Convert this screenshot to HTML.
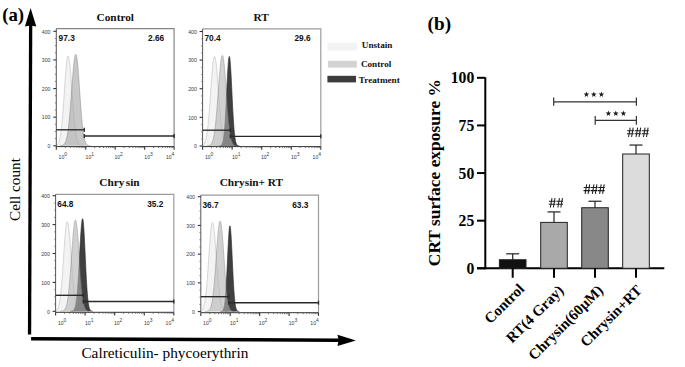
<!DOCTYPE html>
<html><head><meta charset="utf-8"><style>
html,body{margin:0;padding:0;background:#fff;}
svg{display:block;}
</style></head><body>
<svg width="685" height="367" viewBox="0 0 685 367">
<rect width="685" height="367" fill="#fff"/>
<g opacity="1.0"><path d="M56.35,145.80 L56.35,145.32 L56.60,145.20 L56.85,145.06 L57.10,144.88 L57.35,144.67 L57.60,144.41 L57.85,144.11 L58.10,143.75 L58.35,143.33 L58.60,142.83 L58.85,142.24 L59.10,141.57 L59.35,140.79 L59.60,139.89 L59.85,138.87 L60.10,137.71 L60.35,136.40 L60.60,134.93 L60.85,133.29 L61.10,131.48 L61.35,129.48 L61.60,127.29 L61.85,124.91 L62.10,122.33 L62.35,119.56 L62.60,116.61 L62.85,113.49 L63.10,110.20 L63.35,106.76 L63.60,103.20 L63.85,99.54 L64.10,95.81 L64.35,92.03 L64.60,88.25 L64.85,84.49 L65.10,80.81 L65.35,77.24 L65.60,73.81 L65.85,70.58 L66.10,67.59 L66.35,64.86 L66.60,62.45 L66.85,60.37 L67.10,58.67 L67.35,57.35 L67.60,56.45 L67.85,55.98 L68.10,55.93 L68.35,56.24 L68.60,56.91 L68.85,57.91 L69.10,59.24 L69.35,60.88 L69.60,62.81 L69.85,65.02 L70.10,67.47 L70.35,70.15 L70.60,73.02 L70.85,76.05 L71.10,79.22 L71.35,82.49 L71.60,85.84 L71.85,89.23 L72.10,92.64 L72.35,96.03 L72.60,99.39 L72.85,102.70 L73.10,105.92 L73.35,109.05 L73.60,112.06 L73.85,114.95 L74.10,117.70 L74.35,120.30 L74.60,122.76 L74.85,125.05 L75.10,127.20 L75.35,129.18 L75.60,131.01 L75.85,132.69 L76.10,134.23 L76.35,135.63 L76.60,136.89 L76.85,138.02 L77.10,139.04 L77.35,139.95 L77.60,140.75 L77.85,141.46 L78.10,142.09 L78.35,142.64 L78.60,143.12 L78.85,143.53 L79.10,143.89 L79.35,144.20 L79.60,144.46 L79.85,144.68 L80.10,144.87 L80.35,145.03 L80.60,145.17 L80.85,145.28 L81.10,145.38 L81.35,145.46 L81.60,145.52 L81.85,145.58 L82.10,145.62 L82.35,145.66 L82.60,145.68 L82.85,145.71 L83.10,145.73 L83.35,145.74 L83.60,145.76 L83.85,145.76 L83.85,145.80 Z" fill="#f3f3f3"/><path d="M56.35,145.32 L56.35,145.32 L56.60,145.20 L56.85,145.06 L57.10,144.88 L57.35,144.67 L57.60,144.41 L57.85,144.11 L58.10,143.75 L58.35,143.33 L58.60,142.83 L58.85,142.24 L59.10,141.57 L59.35,140.79 L59.60,139.89 L59.85,138.87 L60.10,137.71 L60.35,136.40 L60.60,134.93 L60.85,133.29 L61.10,131.48 L61.35,129.48 L61.60,127.29 L61.85,124.91 L62.10,122.33 L62.35,119.56 L62.60,116.61 L62.85,113.49 L63.10,110.20 L63.35,106.76 L63.60,103.20 L63.85,99.54 L64.10,95.81 L64.35,92.03 L64.60,88.25 L64.85,84.49 L65.10,80.81 L65.35,77.24 L65.60,73.81 L65.85,70.58 L66.10,67.59 L66.35,64.86 L66.60,62.45 L66.85,60.37 L67.10,58.67 L67.35,57.35 L67.60,56.45 L67.85,55.98 L68.10,55.93 L68.35,56.24 L68.60,56.91 L68.85,57.91 L69.10,59.24 L69.35,60.88 L69.60,62.81 L69.85,65.02 L70.10,67.47 L70.35,70.15 L70.60,73.02 L70.85,76.05 L71.10,79.22 L71.35,82.49 L71.60,85.84 L71.85,89.23 L72.10,92.64 L72.35,96.03 L72.60,99.39 L72.85,102.70 L73.10,105.92 L73.35,109.05 L73.60,112.06 L73.85,114.95 L74.10,117.70 L74.35,120.30 L74.60,122.76 L74.85,125.05 L75.10,127.20 L75.35,129.18 L75.60,131.01 L75.85,132.69 L76.10,134.23 L76.35,135.63 L76.60,136.89 L76.85,138.02 L77.10,139.04 L77.35,139.95 L77.60,140.75 L77.85,141.46 L78.10,142.09 L78.35,142.64 L78.60,143.12 L78.85,143.53 L79.10,143.89 L79.35,144.20 L79.60,144.46 L79.85,144.68 L80.10,144.87 L80.35,145.03 L80.60,145.17 L80.85,145.28 L81.10,145.38 L81.35,145.46 L81.60,145.52 L81.85,145.58 L82.10,145.62 L82.35,145.66 L82.60,145.68 L82.85,145.71 L83.10,145.73 L83.35,145.74 L83.60,145.76 L83.85,145.76" fill="none" stroke="#bdbdbd" stroke-width="0.6"/></g>
<g opacity="0.6"><path d="M59.40,145.80 L59.40,145.77 L59.65,145.76 L59.90,145.75 L60.15,145.74 L60.40,145.72 L60.65,145.70 L60.90,145.68 L61.15,145.65 L61.40,145.61 L61.65,145.56 L61.90,145.51 L62.15,145.44 L62.40,145.36 L62.65,145.27 L62.90,145.15 L63.15,145.02 L63.40,144.86 L63.65,144.67 L63.90,144.45 L64.15,144.19 L64.40,143.89 L64.65,143.54 L64.90,143.13 L65.15,142.67 L65.40,142.14 L65.65,141.53 L65.90,140.85 L66.15,140.07 L66.40,139.20 L66.65,138.22 L66.90,137.14 L67.15,135.93 L67.40,134.59 L67.65,133.13 L67.90,131.52 L68.15,129.77 L68.40,127.87 L68.65,125.82 L68.90,123.62 L69.15,121.27 L69.40,118.77 L69.65,116.13 L69.90,113.35 L70.15,110.43 L70.40,107.41 L70.65,104.27 L70.90,101.05 L71.15,97.76 L71.40,94.41 L71.65,91.04 L71.90,87.66 L72.15,84.30 L72.40,80.99 L72.65,77.76 L72.90,74.63 L73.15,71.63 L73.40,68.79 L73.65,66.14 L73.90,63.71 L74.15,61.51 L74.40,59.58 L74.65,57.93 L74.90,56.58 L75.15,55.54 L75.40,54.83 L75.65,54.46 L75.90,54.43 L76.15,54.79 L76.40,55.53 L76.65,56.66 L76.90,58.15 L77.15,59.99 L77.40,62.15 L77.65,64.61 L77.90,67.34 L78.15,70.31 L78.40,73.47 L78.65,76.81 L78.90,80.27 L79.15,83.83 L79.40,87.45 L79.65,91.09 L79.90,94.73 L80.15,98.33 L80.40,101.87 L80.65,105.32 L80.90,108.66 L81.15,111.87 L81.40,114.94 L81.65,117.85 L81.90,120.60 L82.15,123.18 L82.40,125.57 L82.65,127.80 L82.90,129.85 L83.15,131.72 L83.40,133.43 L83.65,134.98 L83.90,136.37 L84.15,137.63 L84.40,138.74 L84.65,139.73 L84.90,140.60 L85.15,141.37 L85.40,142.04 L85.65,142.62 L85.90,143.13 L86.15,143.56 L86.40,143.93 L86.65,144.25 L86.90,144.52 L87.15,144.74 L87.40,144.93 L87.65,145.09 L87.90,145.23 L88.15,145.34 L88.40,145.43 L88.65,145.50 L88.90,145.56 L89.15,145.61 L89.40,145.65 L89.65,145.68 L89.90,145.71 L90.15,145.73 L90.40,145.74 L90.65,145.76 L90.90,145.77 L90.90,145.80 Z" fill="#a4a4a4"/><path d="M59.40,145.77 L59.40,145.77 L59.65,145.76 L59.90,145.75 L60.15,145.74 L60.40,145.72 L60.65,145.70 L60.90,145.68 L61.15,145.65 L61.40,145.61 L61.65,145.56 L61.90,145.51 L62.15,145.44 L62.40,145.36 L62.65,145.27 L62.90,145.15 L63.15,145.02 L63.40,144.86 L63.65,144.67 L63.90,144.45 L64.15,144.19 L64.40,143.89 L64.65,143.54 L64.90,143.13 L65.15,142.67 L65.40,142.14 L65.65,141.53 L65.90,140.85 L66.15,140.07 L66.40,139.20 L66.65,138.22 L66.90,137.14 L67.15,135.93 L67.40,134.59 L67.65,133.13 L67.90,131.52 L68.15,129.77 L68.40,127.87 L68.65,125.82 L68.90,123.62 L69.15,121.27 L69.40,118.77 L69.65,116.13 L69.90,113.35 L70.15,110.43 L70.40,107.41 L70.65,104.27 L70.90,101.05 L71.15,97.76 L71.40,94.41 L71.65,91.04 L71.90,87.66 L72.15,84.30 L72.40,80.99 L72.65,77.76 L72.90,74.63 L73.15,71.63 L73.40,68.79 L73.65,66.14 L73.90,63.71 L74.15,61.51 L74.40,59.58 L74.65,57.93 L74.90,56.58 L75.15,55.54 L75.40,54.83 L75.65,54.46 L75.90,54.43 L76.15,54.79 L76.40,55.53 L76.65,56.66 L76.90,58.15 L77.15,59.99 L77.40,62.15 L77.65,64.61 L77.90,67.34 L78.15,70.31 L78.40,73.47 L78.65,76.81 L78.90,80.27 L79.15,83.83 L79.40,87.45 L79.65,91.09 L79.90,94.73 L80.15,98.33 L80.40,101.87 L80.65,105.32 L80.90,108.66 L81.15,111.87 L81.40,114.94 L81.65,117.85 L81.90,120.60 L82.15,123.18 L82.40,125.57 L82.65,127.80 L82.90,129.85 L83.15,131.72 L83.40,133.43 L83.65,134.98 L83.90,136.37 L84.15,137.63 L84.40,138.74 L84.65,139.73 L84.90,140.60 L85.15,141.37 L85.40,142.04 L85.65,142.62 L85.90,143.13 L86.15,143.56 L86.40,143.93 L86.65,144.25 L86.90,144.52 L87.15,144.74 L87.40,144.93 L87.65,145.09 L87.90,145.23 L88.15,145.34 L88.40,145.43 L88.65,145.50 L88.90,145.56 L89.15,145.61 L89.40,145.65 L89.65,145.68 L89.90,145.71 L90.15,145.73 L90.40,145.74 L90.65,145.76 L90.90,145.77" fill="none" stroke="#4a4a4a" stroke-width="0.6"/></g>
<path d="M56.30,28.60 H174.10 V146.60" fill="none" stroke="#858585" stroke-width="1.2"/>
<line x1="56.30" y1="28.60" x2="56.30" y2="146.60" stroke="#444" stroke-width="0.9"/>
<line x1="56.30" y1="146.60" x2="174.10" y2="146.60" stroke="#333" stroke-width="1"/>
<line x1="53.30" y1="145.80" x2="56.30" y2="145.80" stroke="#333" stroke-width="1.1"/>
<text x="50.50" y="148.10" font-family='"Liberation Sans", sans-serif' font-size="5.2" fill="#3a3a3a" text-anchor="end">0</text>
<line x1="54.90" y1="138.64" x2="56.30" y2="138.64" stroke="#666" stroke-width="0.8"/>
<line x1="54.90" y1="131.49" x2="56.30" y2="131.49" stroke="#666" stroke-width="0.8"/>
<line x1="54.90" y1="124.33" x2="56.30" y2="124.33" stroke="#666" stroke-width="0.8"/>
<line x1="53.30" y1="117.18" x2="56.30" y2="117.18" stroke="#333" stroke-width="1.1"/>
<text x="50.50" y="119.48" font-family='"Liberation Sans", sans-serif' font-size="5.2" fill="#3a3a3a" text-anchor="end">100</text>
<line x1="54.90" y1="110.02" x2="56.30" y2="110.02" stroke="#666" stroke-width="0.8"/>
<line x1="54.90" y1="102.86" x2="56.30" y2="102.86" stroke="#666" stroke-width="0.8"/>
<line x1="54.90" y1="95.71" x2="56.30" y2="95.71" stroke="#666" stroke-width="0.8"/>
<line x1="53.30" y1="88.55" x2="56.30" y2="88.55" stroke="#333" stroke-width="1.1"/>
<text x="50.50" y="90.85" font-family='"Liberation Sans", sans-serif' font-size="5.2" fill="#3a3a3a" text-anchor="end">200</text>
<line x1="54.90" y1="81.39" x2="56.30" y2="81.39" stroke="#666" stroke-width="0.8"/>
<line x1="54.90" y1="74.24" x2="56.30" y2="74.24" stroke="#666" stroke-width="0.8"/>
<line x1="54.90" y1="67.08" x2="56.30" y2="67.08" stroke="#666" stroke-width="0.8"/>
<line x1="53.30" y1="59.92" x2="56.30" y2="59.92" stroke="#333" stroke-width="1.1"/>
<text x="50.50" y="62.22" font-family='"Liberation Sans", sans-serif' font-size="5.2" fill="#3a3a3a" text-anchor="end">300</text>
<line x1="54.90" y1="52.77" x2="56.30" y2="52.77" stroke="#666" stroke-width="0.8"/>
<line x1="54.90" y1="45.61" x2="56.30" y2="45.61" stroke="#666" stroke-width="0.8"/>
<line x1="54.90" y1="38.46" x2="56.30" y2="38.46" stroke="#666" stroke-width="0.8"/>
<line x1="53.30" y1="31.30" x2="56.30" y2="31.30" stroke="#333" stroke-width="1.1"/>
<text x="50.50" y="33.60" font-family='"Liberation Sans", sans-serif' font-size="5.2" fill="#3a3a3a" text-anchor="end">400</text>
<line x1="56.30" y1="146.60" x2="56.30" y2="149.80" stroke="#333" stroke-width="1.1"/>
<line x1="65.17" y1="146.60" x2="65.17" y2="148.10" stroke="#555" stroke-width="0.8"/>
<line x1="70.35" y1="146.60" x2="70.35" y2="148.10" stroke="#555" stroke-width="0.8"/>
<line x1="74.03" y1="146.60" x2="74.03" y2="148.10" stroke="#555" stroke-width="0.8"/>
<line x1="76.88" y1="146.60" x2="76.88" y2="148.10" stroke="#555" stroke-width="0.8"/>
<line x1="79.22" y1="146.60" x2="79.22" y2="148.10" stroke="#555" stroke-width="0.8"/>
<line x1="81.19" y1="146.60" x2="81.19" y2="148.10" stroke="#555" stroke-width="0.8"/>
<line x1="82.90" y1="146.60" x2="82.90" y2="148.10" stroke="#555" stroke-width="0.8"/>
<line x1="84.40" y1="146.60" x2="84.40" y2="148.10" stroke="#555" stroke-width="0.8"/>
<line x1="85.75" y1="146.60" x2="85.75" y2="149.80" stroke="#333" stroke-width="1.1"/>
<line x1="94.62" y1="146.60" x2="94.62" y2="148.10" stroke="#555" stroke-width="0.8"/>
<line x1="99.80" y1="146.60" x2="99.80" y2="148.10" stroke="#555" stroke-width="0.8"/>
<line x1="103.48" y1="146.60" x2="103.48" y2="148.10" stroke="#555" stroke-width="0.8"/>
<line x1="106.33" y1="146.60" x2="106.33" y2="148.10" stroke="#555" stroke-width="0.8"/>
<line x1="108.67" y1="146.60" x2="108.67" y2="148.10" stroke="#555" stroke-width="0.8"/>
<line x1="110.64" y1="146.60" x2="110.64" y2="148.10" stroke="#555" stroke-width="0.8"/>
<line x1="112.35" y1="146.60" x2="112.35" y2="148.10" stroke="#555" stroke-width="0.8"/>
<line x1="113.85" y1="146.60" x2="113.85" y2="148.10" stroke="#555" stroke-width="0.8"/>
<line x1="115.20" y1="146.60" x2="115.20" y2="149.80" stroke="#333" stroke-width="1.1"/>
<line x1="124.07" y1="146.60" x2="124.07" y2="148.10" stroke="#555" stroke-width="0.8"/>
<line x1="129.25" y1="146.60" x2="129.25" y2="148.10" stroke="#555" stroke-width="0.8"/>
<line x1="132.93" y1="146.60" x2="132.93" y2="148.10" stroke="#555" stroke-width="0.8"/>
<line x1="135.78" y1="146.60" x2="135.78" y2="148.10" stroke="#555" stroke-width="0.8"/>
<line x1="138.12" y1="146.60" x2="138.12" y2="148.10" stroke="#555" stroke-width="0.8"/>
<line x1="140.09" y1="146.60" x2="140.09" y2="148.10" stroke="#555" stroke-width="0.8"/>
<line x1="141.80" y1="146.60" x2="141.80" y2="148.10" stroke="#555" stroke-width="0.8"/>
<line x1="143.30" y1="146.60" x2="143.30" y2="148.10" stroke="#555" stroke-width="0.8"/>
<line x1="144.65" y1="146.60" x2="144.65" y2="149.80" stroke="#333" stroke-width="1.1"/>
<line x1="153.52" y1="146.60" x2="153.52" y2="148.10" stroke="#555" stroke-width="0.8"/>
<line x1="158.70" y1="146.60" x2="158.70" y2="148.10" stroke="#555" stroke-width="0.8"/>
<line x1="162.38" y1="146.60" x2="162.38" y2="148.10" stroke="#555" stroke-width="0.8"/>
<line x1="165.23" y1="146.60" x2="165.23" y2="148.10" stroke="#555" stroke-width="0.8"/>
<line x1="167.57" y1="146.60" x2="167.57" y2="148.10" stroke="#555" stroke-width="0.8"/>
<line x1="169.54" y1="146.60" x2="169.54" y2="148.10" stroke="#555" stroke-width="0.8"/>
<line x1="171.25" y1="146.60" x2="171.25" y2="148.10" stroke="#555" stroke-width="0.8"/>
<line x1="172.75" y1="146.60" x2="172.75" y2="148.10" stroke="#555" stroke-width="0.8"/>
<line x1="174.10" y1="146.60" x2="174.10" y2="149.80" stroke="#333" stroke-width="1.1"/>
<text x="58.60" y="159.30" font-family='"Liberation Sans", sans-serif' font-size="5.1" fill="#3a3a3a">10</text>
<text x="64.30" y="156.10" font-family='"Liberation Sans", sans-serif' font-size="4.9" fill="#3a3a3a">0</text>
<text x="85.55" y="159.30" font-family='"Liberation Sans", sans-serif' font-size="5.1" fill="#3a3a3a">10</text>
<text x="91.25" y="156.10" font-family='"Liberation Sans", sans-serif' font-size="4.9" fill="#3a3a3a">1</text>
<text x="114.40" y="159.30" font-family='"Liberation Sans", sans-serif' font-size="5.1" fill="#3a3a3a">10</text>
<text x="120.10" y="156.10" font-family='"Liberation Sans", sans-serif' font-size="4.9" fill="#3a3a3a">2</text>
<text x="144.35" y="159.30" font-family='"Liberation Sans", sans-serif' font-size="5.1" fill="#3a3a3a">10</text>
<text x="150.05" y="156.10" font-family='"Liberation Sans", sans-serif' font-size="4.9" fill="#3a3a3a">3</text>
<text x="165.90" y="159.30" font-family='"Liberation Sans", sans-serif' font-size="5.1" fill="#3a3a3a">10</text>
<text x="171.60" y="156.10" font-family='"Liberation Sans", sans-serif' font-size="4.9" fill="#3a3a3a">4</text>
<g stroke="#2a2a2a" stroke-width="1.35" fill="none">
<line x1="56.30" y1="129.80" x2="84.30" y2="129.80"/>
<line x1="84.30" y1="127.80" x2="84.30" y2="131.80"/>
<line x1="84.30" y1="136.00" x2="174.10" y2="136.00"/>
<line x1="84.30" y1="134.00" x2="84.30" y2="138.00"/>
<line x1="174.10" y1="134.00" x2="174.10" y2="138.00"/>
</g>
<text x="58.60" y="40.60" font-family='"Liberation Sans", sans-serif' font-weight="bold" font-size="8.3" fill="#111">97.3</text>
<text x="164.20" y="40.60" font-family='"Liberation Sans", sans-serif' font-weight="bold" font-size="8.3" fill="#111" text-anchor="end">2.66</text>
<g opacity="1.0"><path d="M202.80,146.00 L202.80,145.22 L203.05,145.04 L203.30,144.84 L203.55,144.59 L203.80,144.30 L204.05,143.96 L204.30,143.56 L204.55,143.09 L204.80,142.55 L205.05,141.93 L205.30,141.22 L205.55,140.41 L205.80,139.48 L206.05,138.44 L206.30,137.27 L206.55,135.96 L206.80,134.50 L207.05,132.89 L207.30,131.12 L207.55,129.18 L207.80,127.07 L208.05,124.78 L208.30,122.33 L208.55,119.70 L208.80,116.91 L209.05,113.96 L209.30,110.87 L209.55,107.64 L209.80,104.30 L210.05,100.86 L210.30,97.35 L210.55,93.80 L210.80,90.23 L211.05,86.66 L211.30,83.15 L211.55,79.71 L211.80,76.39 L212.05,73.21 L212.30,70.23 L212.55,67.45 L212.80,64.93 L213.05,62.69 L213.30,60.76 L213.55,59.16 L213.80,57.91 L214.05,57.03 L214.30,56.52 L214.55,56.41 L214.80,56.65 L215.05,57.24 L215.30,58.17 L215.55,59.43 L215.80,61.01 L216.05,62.88 L216.30,65.03 L216.55,67.43 L216.80,70.05 L217.05,72.88 L217.30,75.87 L217.55,79.00 L217.80,82.25 L218.05,85.57 L218.30,88.94 L218.55,92.33 L218.80,95.72 L219.05,99.08 L219.30,102.39 L219.55,105.62 L219.80,108.75 L220.05,111.78 L220.30,114.68 L220.55,117.45 L220.80,120.08 L221.05,122.56 L221.30,124.88 L221.55,127.04 L221.80,129.05 L222.05,130.91 L222.30,132.62 L222.55,134.17 L222.80,135.59 L223.05,136.88 L223.30,138.03 L223.55,139.07 L223.80,140.00 L224.05,140.82 L224.30,141.54 L224.55,142.18 L224.80,142.75 L225.05,143.23 L225.30,143.66 L225.55,144.03 L225.80,144.34 L226.05,144.61 L226.30,144.84 L226.55,145.04 L226.80,145.21 L227.05,145.35 L227.30,145.46 L227.55,145.56 L227.80,145.64 L228.05,145.71 L228.30,145.77 L228.55,145.81 L228.80,145.85 L229.05,145.88 L229.30,145.90 L229.55,145.92 L229.80,145.94 L230.05,145.95 L230.30,145.96 L230.30,146.00 Z" fill="#f3f3f3"/><path d="M202.80,145.22 L202.80,145.22 L203.05,145.04 L203.30,144.84 L203.55,144.59 L203.80,144.30 L204.05,143.96 L204.30,143.56 L204.55,143.09 L204.80,142.55 L205.05,141.93 L205.30,141.22 L205.55,140.41 L205.80,139.48 L206.05,138.44 L206.30,137.27 L206.55,135.96 L206.80,134.50 L207.05,132.89 L207.30,131.12 L207.55,129.18 L207.80,127.07 L208.05,124.78 L208.30,122.33 L208.55,119.70 L208.80,116.91 L209.05,113.96 L209.30,110.87 L209.55,107.64 L209.80,104.30 L210.05,100.86 L210.30,97.35 L210.55,93.80 L210.80,90.23 L211.05,86.66 L211.30,83.15 L211.55,79.71 L211.80,76.39 L212.05,73.21 L212.30,70.23 L212.55,67.45 L212.80,64.93 L213.05,62.69 L213.30,60.76 L213.55,59.16 L213.80,57.91 L214.05,57.03 L214.30,56.52 L214.55,56.41 L214.80,56.65 L215.05,57.24 L215.30,58.17 L215.55,59.43 L215.80,61.01 L216.05,62.88 L216.30,65.03 L216.55,67.43 L216.80,70.05 L217.05,72.88 L217.30,75.87 L217.55,79.00 L217.80,82.25 L218.05,85.57 L218.30,88.94 L218.55,92.33 L218.80,95.72 L219.05,99.08 L219.30,102.39 L219.55,105.62 L219.80,108.75 L220.05,111.78 L220.30,114.68 L220.55,117.45 L220.80,120.08 L221.05,122.56 L221.30,124.88 L221.55,127.04 L221.80,129.05 L222.05,130.91 L222.30,132.62 L222.55,134.17 L222.80,135.59 L223.05,136.88 L223.30,138.03 L223.55,139.07 L223.80,140.00 L224.05,140.82 L224.30,141.54 L224.55,142.18 L224.80,142.75 L225.05,143.23 L225.30,143.66 L225.55,144.03 L225.80,144.34 L226.05,144.61 L226.30,144.84 L226.55,145.04 L226.80,145.21 L227.05,145.35 L227.30,145.46 L227.55,145.56 L227.80,145.64 L228.05,145.71 L228.30,145.77 L228.55,145.81 L228.80,145.85 L229.05,145.88 L229.30,145.90 L229.55,145.92 L229.80,145.94 L230.05,145.95 L230.30,145.96" fill="none" stroke="#bdbdbd" stroke-width="0.6"/></g>
<g opacity="1.0"><path d="M218.90,146.00 L218.90,145.97 L219.15,145.96 L219.40,145.94 L219.65,145.91 L219.90,145.87 L220.15,145.82 L220.40,145.74 L220.65,145.65 L220.90,145.51 L221.15,145.34 L221.40,145.11 L221.65,144.82 L221.90,144.44 L222.15,143.96 L222.40,143.35 L222.65,142.60 L222.90,141.67 L223.15,140.54 L223.40,139.17 L223.65,137.55 L223.90,135.63 L224.15,133.40 L224.40,130.83 L224.65,127.90 L224.90,124.60 L225.15,120.93 L225.40,116.91 L225.65,112.55 L225.90,107.90 L226.15,102.99 L226.40,97.90 L226.65,92.70 L226.90,87.48 L227.15,82.35 L227.40,77.40 L227.65,72.74 L227.90,68.49 L228.15,64.75 L228.40,61.61 L228.65,59.16 L228.90,57.45 L229.15,56.55 L229.40,56.47 L229.65,57.21 L229.90,58.75 L230.15,61.06 L230.40,64.07 L230.65,67.70 L230.90,71.86 L231.15,76.44 L231.40,81.34 L231.65,86.45 L231.90,91.65 L232.15,96.86 L232.40,101.98 L232.65,106.93 L232.90,111.64 L233.15,116.07 L233.40,120.16 L233.65,123.90 L233.90,127.27 L234.15,130.27 L234.40,132.91 L234.65,135.21 L234.90,137.19 L235.15,138.87 L235.40,140.28 L235.65,141.46 L235.90,142.43 L236.15,143.21 L236.40,143.85 L236.65,144.35 L236.90,144.75 L237.15,145.06 L237.40,145.30 L237.65,145.48 L237.90,145.62 L238.15,145.73 L238.40,145.80 L238.65,145.86 L238.90,145.90 L239.15,145.93 L239.40,145.95 L239.65,145.97 L239.65,146.00 Z" fill="#404040"/><path d="M218.90,145.97 L218.90,145.97 L219.15,145.96 L219.40,145.94 L219.65,145.91 L219.90,145.87 L220.15,145.82 L220.40,145.74 L220.65,145.65 L220.90,145.51 L221.15,145.34 L221.40,145.11 L221.65,144.82 L221.90,144.44 L222.15,143.96 L222.40,143.35 L222.65,142.60 L222.90,141.67 L223.15,140.54 L223.40,139.17 L223.65,137.55 L223.90,135.63 L224.15,133.40 L224.40,130.83 L224.65,127.90 L224.90,124.60 L225.15,120.93 L225.40,116.91 L225.65,112.55 L225.90,107.90 L226.15,102.99 L226.40,97.90 L226.65,92.70 L226.90,87.48 L227.15,82.35 L227.40,77.40 L227.65,72.74 L227.90,68.49 L228.15,64.75 L228.40,61.61 L228.65,59.16 L228.90,57.45 L229.15,56.55 L229.40,56.47 L229.65,57.21 L229.90,58.75 L230.15,61.06 L230.40,64.07 L230.65,67.70 L230.90,71.86 L231.15,76.44 L231.40,81.34 L231.65,86.45 L231.90,91.65 L232.15,96.86 L232.40,101.98 L232.65,106.93 L232.90,111.64 L233.15,116.07 L233.40,120.16 L233.65,123.90 L233.90,127.27 L234.15,130.27 L234.40,132.91 L234.65,135.21 L234.90,137.19 L235.15,138.87 L235.40,140.28 L235.65,141.46 L235.90,142.43 L236.15,143.21 L236.40,143.85 L236.65,144.35 L236.90,144.75 L237.15,145.06 L237.40,145.30 L237.65,145.48 L237.90,145.62 L238.15,145.73 L238.40,145.80 L238.65,145.86 L238.90,145.90 L239.15,145.93 L239.40,145.95 L239.65,145.97" fill="none" stroke="#262626" stroke-width="0.6"/></g>
<g opacity="0.6"><path d="M206.30,146.00 L206.30,145.97 L206.55,145.96 L206.80,145.95 L207.05,145.94 L207.30,145.92 L207.55,145.90 L207.80,145.87 L208.05,145.84 L208.30,145.80 L208.55,145.75 L208.80,145.70 L209.05,145.62 L209.30,145.54 L209.55,145.44 L209.80,145.31 L210.05,145.17 L210.30,144.99 L210.55,144.79 L210.80,144.55 L211.05,144.26 L211.30,143.93 L211.55,143.55 L211.80,143.11 L212.05,142.60 L212.30,142.02 L212.55,141.36 L212.80,140.60 L213.05,139.75 L213.30,138.79 L213.55,137.72 L213.80,136.53 L214.05,135.20 L214.30,133.74 L214.55,132.13 L214.80,130.38 L215.05,128.47 L215.30,126.41 L215.55,124.18 L215.80,121.81 L216.05,119.27 L216.30,116.59 L216.55,113.76 L216.80,110.80 L217.05,107.71 L217.30,104.52 L217.55,101.24 L217.80,97.88 L218.05,94.48 L218.30,91.05 L218.55,87.62 L218.80,84.22 L219.05,80.87 L219.30,77.61 L219.55,74.47 L219.80,71.47 L220.05,68.66 L220.30,66.05 L220.55,63.67 L220.80,61.55 L221.05,59.72 L221.30,58.19 L221.55,56.98 L221.80,56.11 L222.05,55.58 L222.30,55.40 L222.55,55.58 L222.80,56.11 L223.05,56.98 L223.30,58.19 L223.55,59.72 L223.80,61.55 L224.05,63.67 L224.30,66.05 L224.55,68.66 L224.80,71.47 L225.05,74.47 L225.30,77.61 L225.55,80.87 L225.80,84.22 L226.05,87.62 L226.30,91.05 L226.55,94.48 L226.80,97.88 L227.05,101.24 L227.30,104.52 L227.55,107.71 L227.80,110.80 L228.05,113.76 L228.30,116.59 L228.55,119.27 L228.80,121.81 L229.05,124.18 L229.30,126.41 L229.55,128.47 L229.80,130.38 L230.05,132.13 L230.30,133.74 L230.55,135.20 L230.80,136.53 L231.05,137.72 L231.30,138.79 L231.55,139.75 L231.80,140.60 L232.05,141.36 L232.30,142.02 L232.55,142.60 L232.80,143.11 L233.05,143.55 L233.30,143.93 L233.55,144.26 L233.80,144.55 L234.05,144.79 L234.30,144.99 L234.55,145.17 L234.80,145.31 L235.05,145.44 L235.30,145.54 L235.55,145.62 L235.80,145.70 L236.05,145.75 L236.30,145.80 L236.55,145.84 L236.80,145.87 L237.05,145.90 L237.30,145.92 L237.55,145.94 L237.80,145.95 L238.05,145.96 L238.30,145.97 L238.30,146.00 Z" fill="#b4b4b4"/><path d="M206.30,145.97 L206.30,145.97 L206.55,145.96 L206.80,145.95 L207.05,145.94 L207.30,145.92 L207.55,145.90 L207.80,145.87 L208.05,145.84 L208.30,145.80 L208.55,145.75 L208.80,145.70 L209.05,145.62 L209.30,145.54 L209.55,145.44 L209.80,145.31 L210.05,145.17 L210.30,144.99 L210.55,144.79 L210.80,144.55 L211.05,144.26 L211.30,143.93 L211.55,143.55 L211.80,143.11 L212.05,142.60 L212.30,142.02 L212.55,141.36 L212.80,140.60 L213.05,139.75 L213.30,138.79 L213.55,137.72 L213.80,136.53 L214.05,135.20 L214.30,133.74 L214.55,132.13 L214.80,130.38 L215.05,128.47 L215.30,126.41 L215.55,124.18 L215.80,121.81 L216.05,119.27 L216.30,116.59 L216.55,113.76 L216.80,110.80 L217.05,107.71 L217.30,104.52 L217.55,101.24 L217.80,97.88 L218.05,94.48 L218.30,91.05 L218.55,87.62 L218.80,84.22 L219.05,80.87 L219.30,77.61 L219.55,74.47 L219.80,71.47 L220.05,68.66 L220.30,66.05 L220.55,63.67 L220.80,61.55 L221.05,59.72 L221.30,58.19 L221.55,56.98 L221.80,56.11 L222.05,55.58 L222.30,55.40 L222.55,55.58 L222.80,56.11 L223.05,56.98 L223.30,58.19 L223.55,59.72 L223.80,61.55 L224.05,63.67 L224.30,66.05 L224.55,68.66 L224.80,71.47 L225.05,74.47 L225.30,77.61 L225.55,80.87 L225.80,84.22 L226.05,87.62 L226.30,91.05 L226.55,94.48 L226.80,97.88 L227.05,101.24 L227.30,104.52 L227.55,107.71 L227.80,110.80 L228.05,113.76 L228.30,116.59 L228.55,119.27 L228.80,121.81 L229.05,124.18 L229.30,126.41 L229.55,128.47 L229.80,130.38 L230.05,132.13 L230.30,133.74 L230.55,135.20 L230.80,136.53 L231.05,137.72 L231.30,138.79 L231.55,139.75 L231.80,140.60 L232.05,141.36 L232.30,142.02 L232.55,142.60 L232.80,143.11 L233.05,143.55 L233.30,143.93 L233.55,144.26 L233.80,144.55 L234.05,144.79 L234.30,144.99 L234.55,145.17 L234.80,145.31 L235.05,145.44 L235.30,145.54 L235.55,145.62 L235.80,145.70 L236.05,145.75 L236.30,145.80 L236.55,145.84 L236.80,145.87 L237.05,145.90 L237.30,145.92 L237.55,145.94 L237.80,145.95 L238.05,145.96 L238.30,145.97" fill="none" stroke="#5a5a5a" stroke-width="0.6"/></g>
<path d="M202.60,28.90 H320.80 V146.60" fill="none" stroke="#9c9c9c" stroke-width="1.2"/>
<line x1="202.60" y1="28.90" x2="202.60" y2="146.60" stroke="#444" stroke-width="0.9"/>
<line x1="202.60" y1="146.60" x2="320.80" y2="146.60" stroke="#333" stroke-width="1"/>
<line x1="199.60" y1="146.00" x2="202.60" y2="146.00" stroke="#333" stroke-width="1.1"/>
<text x="196.80" y="148.30" font-family='"Liberation Sans", sans-serif' font-size="5.2" fill="#3a3a3a" text-anchor="end">0</text>
<line x1="201.20" y1="138.84" x2="202.60" y2="138.84" stroke="#666" stroke-width="0.8"/>
<line x1="201.20" y1="131.69" x2="202.60" y2="131.69" stroke="#666" stroke-width="0.8"/>
<line x1="201.20" y1="124.53" x2="202.60" y2="124.53" stroke="#666" stroke-width="0.8"/>
<line x1="199.60" y1="117.38" x2="202.60" y2="117.38" stroke="#333" stroke-width="1.1"/>
<text x="196.80" y="119.67" font-family='"Liberation Sans", sans-serif' font-size="5.2" fill="#3a3a3a" text-anchor="end">100</text>
<line x1="201.20" y1="110.22" x2="202.60" y2="110.22" stroke="#666" stroke-width="0.8"/>
<line x1="201.20" y1="103.06" x2="202.60" y2="103.06" stroke="#666" stroke-width="0.8"/>
<line x1="201.20" y1="95.91" x2="202.60" y2="95.91" stroke="#666" stroke-width="0.8"/>
<line x1="199.60" y1="88.75" x2="202.60" y2="88.75" stroke="#333" stroke-width="1.1"/>
<text x="196.80" y="91.05" font-family='"Liberation Sans", sans-serif' font-size="5.2" fill="#3a3a3a" text-anchor="end">200</text>
<line x1="201.20" y1="81.59" x2="202.60" y2="81.59" stroke="#666" stroke-width="0.8"/>
<line x1="201.20" y1="74.44" x2="202.60" y2="74.44" stroke="#666" stroke-width="0.8"/>
<line x1="201.20" y1="67.28" x2="202.60" y2="67.28" stroke="#666" stroke-width="0.8"/>
<line x1="199.60" y1="60.12" x2="202.60" y2="60.12" stroke="#333" stroke-width="1.1"/>
<text x="196.80" y="62.42" font-family='"Liberation Sans", sans-serif' font-size="5.2" fill="#3a3a3a" text-anchor="end">300</text>
<line x1="201.20" y1="52.97" x2="202.60" y2="52.97" stroke="#666" stroke-width="0.8"/>
<line x1="201.20" y1="45.81" x2="202.60" y2="45.81" stroke="#666" stroke-width="0.8"/>
<line x1="201.20" y1="38.66" x2="202.60" y2="38.66" stroke="#666" stroke-width="0.8"/>
<line x1="199.60" y1="31.50" x2="202.60" y2="31.50" stroke="#333" stroke-width="1.1"/>
<text x="196.80" y="33.80" font-family='"Liberation Sans", sans-serif' font-size="5.2" fill="#3a3a3a" text-anchor="end">400</text>
<line x1="202.60" y1="146.60" x2="202.60" y2="149.80" stroke="#333" stroke-width="1.1"/>
<line x1="211.50" y1="146.60" x2="211.50" y2="148.10" stroke="#555" stroke-width="0.8"/>
<line x1="216.70" y1="146.60" x2="216.70" y2="148.10" stroke="#555" stroke-width="0.8"/>
<line x1="220.39" y1="146.60" x2="220.39" y2="148.10" stroke="#555" stroke-width="0.8"/>
<line x1="223.25" y1="146.60" x2="223.25" y2="148.10" stroke="#555" stroke-width="0.8"/>
<line x1="225.59" y1="146.60" x2="225.59" y2="148.10" stroke="#555" stroke-width="0.8"/>
<line x1="227.57" y1="146.60" x2="227.57" y2="148.10" stroke="#555" stroke-width="0.8"/>
<line x1="229.29" y1="146.60" x2="229.29" y2="148.10" stroke="#555" stroke-width="0.8"/>
<line x1="230.80" y1="146.60" x2="230.80" y2="148.10" stroke="#555" stroke-width="0.8"/>
<line x1="232.15" y1="146.60" x2="232.15" y2="149.80" stroke="#333" stroke-width="1.1"/>
<line x1="241.05" y1="146.60" x2="241.05" y2="148.10" stroke="#555" stroke-width="0.8"/>
<line x1="246.25" y1="146.60" x2="246.25" y2="148.10" stroke="#555" stroke-width="0.8"/>
<line x1="249.94" y1="146.60" x2="249.94" y2="148.10" stroke="#555" stroke-width="0.8"/>
<line x1="252.80" y1="146.60" x2="252.80" y2="148.10" stroke="#555" stroke-width="0.8"/>
<line x1="255.14" y1="146.60" x2="255.14" y2="148.10" stroke="#555" stroke-width="0.8"/>
<line x1="257.12" y1="146.60" x2="257.12" y2="148.10" stroke="#555" stroke-width="0.8"/>
<line x1="258.84" y1="146.60" x2="258.84" y2="148.10" stroke="#555" stroke-width="0.8"/>
<line x1="260.35" y1="146.60" x2="260.35" y2="148.10" stroke="#555" stroke-width="0.8"/>
<line x1="261.70" y1="146.60" x2="261.70" y2="149.80" stroke="#333" stroke-width="1.1"/>
<line x1="270.60" y1="146.60" x2="270.60" y2="148.10" stroke="#555" stroke-width="0.8"/>
<line x1="275.80" y1="146.60" x2="275.80" y2="148.10" stroke="#555" stroke-width="0.8"/>
<line x1="279.49" y1="146.60" x2="279.49" y2="148.10" stroke="#555" stroke-width="0.8"/>
<line x1="282.35" y1="146.60" x2="282.35" y2="148.10" stroke="#555" stroke-width="0.8"/>
<line x1="284.69" y1="146.60" x2="284.69" y2="148.10" stroke="#555" stroke-width="0.8"/>
<line x1="286.67" y1="146.60" x2="286.67" y2="148.10" stroke="#555" stroke-width="0.8"/>
<line x1="288.39" y1="146.60" x2="288.39" y2="148.10" stroke="#555" stroke-width="0.8"/>
<line x1="289.90" y1="146.60" x2="289.90" y2="148.10" stroke="#555" stroke-width="0.8"/>
<line x1="291.25" y1="146.60" x2="291.25" y2="149.80" stroke="#333" stroke-width="1.1"/>
<line x1="300.15" y1="146.60" x2="300.15" y2="148.10" stroke="#555" stroke-width="0.8"/>
<line x1="305.35" y1="146.60" x2="305.35" y2="148.10" stroke="#555" stroke-width="0.8"/>
<line x1="309.04" y1="146.60" x2="309.04" y2="148.10" stroke="#555" stroke-width="0.8"/>
<line x1="311.90" y1="146.60" x2="311.90" y2="148.10" stroke="#555" stroke-width="0.8"/>
<line x1="314.24" y1="146.60" x2="314.24" y2="148.10" stroke="#555" stroke-width="0.8"/>
<line x1="316.22" y1="146.60" x2="316.22" y2="148.10" stroke="#555" stroke-width="0.8"/>
<line x1="317.94" y1="146.60" x2="317.94" y2="148.10" stroke="#555" stroke-width="0.8"/>
<line x1="319.45" y1="146.60" x2="319.45" y2="148.10" stroke="#555" stroke-width="0.8"/>
<line x1="320.80" y1="146.60" x2="320.80" y2="149.80" stroke="#333" stroke-width="1.1"/>
<text x="204.90" y="159.30" font-family='"Liberation Sans", sans-serif' font-size="5.1" fill="#3a3a3a">10</text>
<text x="210.60" y="156.10" font-family='"Liberation Sans", sans-serif' font-size="4.9" fill="#3a3a3a">0</text>
<text x="231.95" y="159.30" font-family='"Liberation Sans", sans-serif' font-size="5.1" fill="#3a3a3a">10</text>
<text x="237.65" y="156.10" font-family='"Liberation Sans", sans-serif' font-size="4.9" fill="#3a3a3a">1</text>
<text x="260.90" y="159.30" font-family='"Liberation Sans", sans-serif' font-size="5.1" fill="#3a3a3a">10</text>
<text x="266.60" y="156.10" font-family='"Liberation Sans", sans-serif' font-size="4.9" fill="#3a3a3a">2</text>
<text x="290.95" y="159.30" font-family='"Liberation Sans", sans-serif' font-size="5.1" fill="#3a3a3a">10</text>
<text x="296.65" y="156.10" font-family='"Liberation Sans", sans-serif' font-size="4.9" fill="#3a3a3a">3</text>
<text x="312.60" y="159.30" font-family='"Liberation Sans", sans-serif' font-size="5.1" fill="#3a3a3a">10</text>
<text x="318.30" y="156.10" font-family='"Liberation Sans", sans-serif' font-size="4.9" fill="#3a3a3a">4</text>
<g stroke="#2a2a2a" stroke-width="1.35" fill="none">
<line x1="202.60" y1="130.20" x2="230.40" y2="130.20"/>
<line x1="230.40" y1="128.20" x2="230.40" y2="132.20"/>
<line x1="230.40" y1="136.30" x2="320.80" y2="136.30"/>
<line x1="230.40" y1="134.30" x2="230.40" y2="138.30"/>
<line x1="320.80" y1="134.30" x2="320.80" y2="138.30"/>
</g>
<text x="204.50" y="40.80" font-family='"Liberation Sans", sans-serif' font-weight="bold" font-size="8.3" fill="#111">70.4</text>
<text x="310.60" y="40.80" font-family='"Liberation Sans", sans-serif' font-weight="bold" font-size="8.3" fill="#111" text-anchor="end">29.6</text>
<g opacity="1.0"><path d="M55.80,311.30 L55.80,310.71 L56.05,310.56 L56.30,310.39 L56.55,310.17 L56.80,309.92 L57.05,309.62 L57.30,309.26 L57.55,308.84 L57.80,308.34 L58.05,307.76 L58.30,307.09 L58.55,306.31 L58.80,305.42 L59.05,304.40 L59.30,303.24 L59.55,301.94 L59.80,300.48 L60.05,298.85 L60.30,297.04 L60.55,295.05 L60.80,292.87 L61.05,290.50 L61.30,287.93 L61.55,285.18 L61.80,282.24 L62.05,279.13 L62.30,275.86 L62.55,272.44 L62.80,268.89 L63.05,265.25 L63.30,261.53 L63.55,257.77 L63.80,254.00 L64.05,250.27 L64.30,246.60 L64.55,243.04 L64.80,239.63 L65.05,236.42 L65.30,233.44 L65.55,230.72 L65.80,228.32 L66.05,226.25 L66.30,224.55 L66.55,223.25 L66.80,222.35 L67.05,221.88 L67.30,221.83 L67.55,222.14 L67.80,222.80 L68.05,223.80 L68.30,225.12 L68.55,226.75 L68.80,228.68 L69.05,230.88 L69.30,233.32 L69.55,235.99 L69.80,238.84 L70.05,241.86 L70.30,245.02 L70.55,248.27 L70.80,251.61 L71.05,254.98 L71.30,258.37 L71.55,261.75 L71.80,265.10 L72.05,268.39 L72.30,271.60 L72.55,274.71 L72.80,277.71 L73.05,280.58 L73.30,283.32 L73.55,285.91 L73.80,288.36 L74.05,290.65 L74.30,292.78 L74.55,294.76 L74.80,296.58 L75.05,298.25 L75.30,299.78 L75.55,301.17 L75.80,302.43 L76.05,303.56 L76.30,304.57 L76.55,305.47 L76.80,306.28 L77.05,306.98 L77.30,307.61 L77.55,308.15 L77.80,308.63 L78.05,309.04 L78.30,309.40 L78.55,309.70 L78.80,309.96 L79.05,310.19 L79.30,310.38 L79.55,310.54 L79.80,310.67 L80.05,310.79 L80.30,310.88 L80.55,310.96 L80.80,311.02 L81.05,311.08 L81.30,311.12 L81.55,311.16 L81.80,311.19 L82.05,311.21 L82.30,311.23 L82.55,311.24 L82.80,311.26 L83.05,311.27 L83.05,311.30 Z" fill="#f3f3f3"/><path d="M55.80,310.71 L55.80,310.71 L56.05,310.56 L56.30,310.39 L56.55,310.17 L56.80,309.92 L57.05,309.62 L57.30,309.26 L57.55,308.84 L57.80,308.34 L58.05,307.76 L58.30,307.09 L58.55,306.31 L58.80,305.42 L59.05,304.40 L59.30,303.24 L59.55,301.94 L59.80,300.48 L60.05,298.85 L60.30,297.04 L60.55,295.05 L60.80,292.87 L61.05,290.50 L61.30,287.93 L61.55,285.18 L61.80,282.24 L62.05,279.13 L62.30,275.86 L62.55,272.44 L62.80,268.89 L63.05,265.25 L63.30,261.53 L63.55,257.77 L63.80,254.00 L64.05,250.27 L64.30,246.60 L64.55,243.04 L64.80,239.63 L65.05,236.42 L65.30,233.44 L65.55,230.72 L65.80,228.32 L66.05,226.25 L66.30,224.55 L66.55,223.25 L66.80,222.35 L67.05,221.88 L67.30,221.83 L67.55,222.14 L67.80,222.80 L68.05,223.80 L68.30,225.12 L68.55,226.75 L68.80,228.68 L69.05,230.88 L69.30,233.32 L69.55,235.99 L69.80,238.84 L70.05,241.86 L70.30,245.02 L70.55,248.27 L70.80,251.61 L71.05,254.98 L71.30,258.37 L71.55,261.75 L71.80,265.10 L72.05,268.39 L72.30,271.60 L72.55,274.71 L72.80,277.71 L73.05,280.58 L73.30,283.32 L73.55,285.91 L73.80,288.36 L74.05,290.65 L74.30,292.78 L74.55,294.76 L74.80,296.58 L75.05,298.25 L75.30,299.78 L75.55,301.17 L75.80,302.43 L76.05,303.56 L76.30,304.57 L76.55,305.47 L76.80,306.28 L77.05,306.98 L77.30,307.61 L77.55,308.15 L77.80,308.63 L78.05,309.04 L78.30,309.40 L78.55,309.70 L78.80,309.96 L79.05,310.19 L79.30,310.38 L79.55,310.54 L79.80,310.67 L80.05,310.79 L80.30,310.88 L80.55,310.96 L80.80,311.02 L81.05,311.08 L81.30,311.12 L81.55,311.16 L81.80,311.19 L82.05,311.21 L82.30,311.23 L82.55,311.24 L82.80,311.26 L83.05,311.27" fill="none" stroke="#bdbdbd" stroke-width="0.6"/></g>
<g opacity="1.0"><path d="M70.60,311.30 L70.60,311.27 L70.85,311.26 L71.10,311.24 L71.35,311.22 L71.60,311.19 L71.85,311.15 L72.10,311.10 L72.35,311.03 L72.60,310.94 L72.85,310.83 L73.10,310.68 L73.35,310.50 L73.60,310.27 L73.85,309.98 L74.10,309.63 L74.35,309.19 L74.60,308.65 L74.85,308.01 L75.10,307.23 L75.35,306.31 L75.60,305.21 L75.85,303.93 L76.10,302.44 L76.35,300.73 L76.60,298.77 L76.85,296.55 L77.10,294.05 L77.35,291.27 L77.60,288.21 L77.85,284.86 L78.10,281.24 L78.35,277.35 L78.60,273.23 L78.85,268.90 L79.10,264.41 L79.35,259.81 L79.60,255.14 L79.85,250.47 L80.10,245.86 L80.35,241.40 L80.60,237.15 L80.85,233.19 L81.10,229.58 L81.35,226.40 L81.60,223.70 L81.85,221.55 L82.10,219.98 L82.35,219.02 L82.60,218.70 L82.85,219.13 L83.10,220.40 L83.35,222.47 L83.60,225.30 L83.85,228.81 L84.10,232.90 L84.35,237.47 L84.60,242.42 L84.85,247.62 L85.10,252.98 L85.35,258.37 L85.60,263.71 L85.85,268.90 L86.10,273.88 L86.35,278.57 L86.60,282.94 L86.85,286.96 L87.10,290.59 L87.35,293.85 L87.60,296.73 L87.85,299.24 L88.10,301.42 L88.35,303.27 L88.60,304.84 L88.85,306.15 L89.10,307.23 L89.35,308.12 L89.60,308.83 L89.85,309.40 L90.10,309.86 L90.35,310.21 L90.60,310.49 L90.85,310.70 L91.10,310.86 L91.35,310.98 L91.60,311.07 L91.85,311.13 L92.10,311.18 L92.35,311.22 L92.60,311.24 L92.85,311.26 L92.85,311.30 Z" fill="#404040"/><path d="M70.60,311.27 L70.60,311.27 L70.85,311.26 L71.10,311.24 L71.35,311.22 L71.60,311.19 L71.85,311.15 L72.10,311.10 L72.35,311.03 L72.60,310.94 L72.85,310.83 L73.10,310.68 L73.35,310.50 L73.60,310.27 L73.85,309.98 L74.10,309.63 L74.35,309.19 L74.60,308.65 L74.85,308.01 L75.10,307.23 L75.35,306.31 L75.60,305.21 L75.85,303.93 L76.10,302.44 L76.35,300.73 L76.60,298.77 L76.85,296.55 L77.10,294.05 L77.35,291.27 L77.60,288.21 L77.85,284.86 L78.10,281.24 L78.35,277.35 L78.60,273.23 L78.85,268.90 L79.10,264.41 L79.35,259.81 L79.60,255.14 L79.85,250.47 L80.10,245.86 L80.35,241.40 L80.60,237.15 L80.85,233.19 L81.10,229.58 L81.35,226.40 L81.60,223.70 L81.85,221.55 L82.10,219.98 L82.35,219.02 L82.60,218.70 L82.85,219.13 L83.10,220.40 L83.35,222.47 L83.60,225.30 L83.85,228.81 L84.10,232.90 L84.35,237.47 L84.60,242.42 L84.85,247.62 L85.10,252.98 L85.35,258.37 L85.60,263.71 L85.85,268.90 L86.10,273.88 L86.35,278.57 L86.60,282.94 L86.85,286.96 L87.10,290.59 L87.35,293.85 L87.60,296.73 L87.85,299.24 L88.10,301.42 L88.35,303.27 L88.60,304.84 L88.85,306.15 L89.10,307.23 L89.35,308.12 L89.60,308.83 L89.85,309.40 L90.10,309.86 L90.35,310.21 L90.60,310.49 L90.85,310.70 L91.10,310.86 L91.35,310.98 L91.60,311.07 L91.85,311.13 L92.10,311.18 L92.35,311.22 L92.60,311.24 L92.85,311.26" fill="none" stroke="#262626" stroke-width="0.6"/></g>
<g opacity="0.6"><path d="M60.20,311.30 L60.20,311.27 L60.45,311.26 L60.70,311.25 L60.95,311.23 L61.20,311.22 L61.45,311.19 L61.70,311.16 L61.95,311.13 L62.20,311.08 L62.45,311.03 L62.70,310.96 L62.95,310.87 L63.20,310.77 L63.45,310.65 L63.70,310.50 L63.95,310.33 L64.20,310.12 L64.45,309.87 L64.70,309.57 L64.95,309.22 L65.20,308.82 L65.45,308.34 L65.70,307.80 L65.95,307.16 L66.20,306.44 L66.45,305.61 L66.70,304.67 L66.95,303.61 L67.20,302.42 L67.45,301.09 L67.70,299.61 L67.95,297.97 L68.20,296.17 L68.45,294.19 L68.70,292.05 L68.95,289.73 L69.20,287.23 L69.45,284.56 L69.70,281.72 L69.95,278.73 L70.20,275.58 L70.45,272.30 L70.70,268.90 L70.95,265.41 L71.20,261.84 L71.45,258.23 L71.70,254.59 L71.95,250.97 L72.20,247.40 L72.45,243.90 L72.70,240.52 L72.95,237.30 L73.20,234.26 L73.45,231.44 L73.70,228.88 L73.95,226.60 L74.20,224.63 L74.45,223.00 L74.70,221.73 L74.95,220.84 L75.20,220.33 L75.45,220.21 L75.70,220.48 L75.95,221.15 L76.20,222.20 L76.45,223.61 L76.70,225.38 L76.95,227.47 L77.20,229.87 L77.45,232.54 L77.70,235.45 L77.95,238.57 L78.20,241.86 L78.45,245.29 L78.70,248.82 L78.95,252.42 L79.20,256.05 L79.45,259.68 L79.70,263.27 L79.95,266.82 L80.20,270.28 L80.45,273.63 L80.70,276.86 L80.95,279.94 L81.20,282.88 L81.45,285.65 L81.70,288.25 L81.95,290.68 L82.20,292.93 L82.45,295.00 L82.70,296.91 L82.95,298.64 L83.20,300.22 L83.45,301.64 L83.70,302.91 L83.95,304.05 L84.20,305.06 L84.45,305.96 L84.70,306.74 L84.95,307.43 L85.20,308.02 L85.45,308.54 L85.70,308.99 L85.95,309.37 L86.20,309.69 L86.45,309.97 L86.70,310.21 L86.95,310.40 L87.20,310.57 L87.45,310.70 L87.70,310.82 L87.95,310.91 L88.20,310.99 L88.45,311.05 L88.70,311.10 L88.95,311.14 L89.20,311.18 L89.45,311.20 L89.70,311.22 L89.95,311.24 L90.20,311.25 L90.45,311.26 L90.45,311.30 Z" fill="#b4b4b4"/><path d="M60.20,311.27 L60.20,311.27 L60.45,311.26 L60.70,311.25 L60.95,311.23 L61.20,311.22 L61.45,311.19 L61.70,311.16 L61.95,311.13 L62.20,311.08 L62.45,311.03 L62.70,310.96 L62.95,310.87 L63.20,310.77 L63.45,310.65 L63.70,310.50 L63.95,310.33 L64.20,310.12 L64.45,309.87 L64.70,309.57 L64.95,309.22 L65.20,308.82 L65.45,308.34 L65.70,307.80 L65.95,307.16 L66.20,306.44 L66.45,305.61 L66.70,304.67 L66.95,303.61 L67.20,302.42 L67.45,301.09 L67.70,299.61 L67.95,297.97 L68.20,296.17 L68.45,294.19 L68.70,292.05 L68.95,289.73 L69.20,287.23 L69.45,284.56 L69.70,281.72 L69.95,278.73 L70.20,275.58 L70.45,272.30 L70.70,268.90 L70.95,265.41 L71.20,261.84 L71.45,258.23 L71.70,254.59 L71.95,250.97 L72.20,247.40 L72.45,243.90 L72.70,240.52 L72.95,237.30 L73.20,234.26 L73.45,231.44 L73.70,228.88 L73.95,226.60 L74.20,224.63 L74.45,223.00 L74.70,221.73 L74.95,220.84 L75.20,220.33 L75.45,220.21 L75.70,220.48 L75.95,221.15 L76.20,222.20 L76.45,223.61 L76.70,225.38 L76.95,227.47 L77.20,229.87 L77.45,232.54 L77.70,235.45 L77.95,238.57 L78.20,241.86 L78.45,245.29 L78.70,248.82 L78.95,252.42 L79.20,256.05 L79.45,259.68 L79.70,263.27 L79.95,266.82 L80.20,270.28 L80.45,273.63 L80.70,276.86 L80.95,279.94 L81.20,282.88 L81.45,285.65 L81.70,288.25 L81.95,290.68 L82.20,292.93 L82.45,295.00 L82.70,296.91 L82.95,298.64 L83.20,300.22 L83.45,301.64 L83.70,302.91 L83.95,304.05 L84.20,305.06 L84.45,305.96 L84.70,306.74 L84.95,307.43 L85.20,308.02 L85.45,308.54 L85.70,308.99 L85.95,309.37 L86.20,309.69 L86.45,309.97 L86.70,310.21 L86.95,310.40 L87.20,310.57 L87.45,310.70 L87.70,310.82 L87.95,310.91 L88.20,310.99 L88.45,311.05 L88.70,311.10 L88.95,311.14 L89.20,311.18 L89.45,311.20 L89.70,311.22 L89.95,311.24 L90.20,311.25 L90.45,311.26" fill="none" stroke="#5a5a5a" stroke-width="0.6"/></g>
<path d="M55.60,194.40 H173.80 V312.30" fill="none" stroke="#9c9c9c" stroke-width="1.2"/>
<line x1="55.60" y1="194.40" x2="55.60" y2="312.30" stroke="#444" stroke-width="0.9"/>
<line x1="55.60" y1="312.30" x2="173.80" y2="312.30" stroke="#333" stroke-width="1"/>
<line x1="52.60" y1="311.30" x2="55.60" y2="311.30" stroke="#333" stroke-width="1.1"/>
<text x="49.80" y="313.60" font-family='"Liberation Sans", sans-serif' font-size="5.2" fill="#3a3a3a" text-anchor="end">0</text>
<line x1="54.20" y1="304.07" x2="55.60" y2="304.07" stroke="#666" stroke-width="0.8"/>
<line x1="54.20" y1="296.85" x2="55.60" y2="296.85" stroke="#666" stroke-width="0.8"/>
<line x1="54.20" y1="289.62" x2="55.60" y2="289.62" stroke="#666" stroke-width="0.8"/>
<line x1="52.60" y1="282.40" x2="55.60" y2="282.40" stroke="#333" stroke-width="1.1"/>
<text x="49.80" y="284.70" font-family='"Liberation Sans", sans-serif' font-size="5.2" fill="#3a3a3a" text-anchor="end">100</text>
<line x1="54.20" y1="275.18" x2="55.60" y2="275.18" stroke="#666" stroke-width="0.8"/>
<line x1="54.20" y1="267.95" x2="55.60" y2="267.95" stroke="#666" stroke-width="0.8"/>
<line x1="54.20" y1="260.73" x2="55.60" y2="260.73" stroke="#666" stroke-width="0.8"/>
<line x1="52.60" y1="253.50" x2="55.60" y2="253.50" stroke="#333" stroke-width="1.1"/>
<text x="49.80" y="255.80" font-family='"Liberation Sans", sans-serif' font-size="5.2" fill="#3a3a3a" text-anchor="end">200</text>
<line x1="54.20" y1="246.28" x2="55.60" y2="246.28" stroke="#666" stroke-width="0.8"/>
<line x1="54.20" y1="239.05" x2="55.60" y2="239.05" stroke="#666" stroke-width="0.8"/>
<line x1="54.20" y1="231.82" x2="55.60" y2="231.82" stroke="#666" stroke-width="0.8"/>
<line x1="52.60" y1="224.60" x2="55.60" y2="224.60" stroke="#333" stroke-width="1.1"/>
<text x="49.80" y="226.90" font-family='"Liberation Sans", sans-serif' font-size="5.2" fill="#3a3a3a" text-anchor="end">300</text>
<line x1="54.20" y1="217.38" x2="55.60" y2="217.38" stroke="#666" stroke-width="0.8"/>
<line x1="54.20" y1="210.15" x2="55.60" y2="210.15" stroke="#666" stroke-width="0.8"/>
<line x1="54.20" y1="202.93" x2="55.60" y2="202.93" stroke="#666" stroke-width="0.8"/>
<line x1="52.60" y1="195.70" x2="55.60" y2="195.70" stroke="#333" stroke-width="1.1"/>
<text x="49.80" y="198.00" font-family='"Liberation Sans", sans-serif' font-size="5.2" fill="#3a3a3a" text-anchor="end">400</text>
<line x1="55.60" y1="312.30" x2="55.60" y2="315.50" stroke="#333" stroke-width="1.1"/>
<line x1="64.50" y1="312.30" x2="64.50" y2="313.80" stroke="#555" stroke-width="0.8"/>
<line x1="69.70" y1="312.30" x2="69.70" y2="313.80" stroke="#555" stroke-width="0.8"/>
<line x1="73.39" y1="312.30" x2="73.39" y2="313.80" stroke="#555" stroke-width="0.8"/>
<line x1="76.25" y1="312.30" x2="76.25" y2="313.80" stroke="#555" stroke-width="0.8"/>
<line x1="78.59" y1="312.30" x2="78.59" y2="313.80" stroke="#555" stroke-width="0.8"/>
<line x1="80.57" y1="312.30" x2="80.57" y2="313.80" stroke="#555" stroke-width="0.8"/>
<line x1="82.29" y1="312.30" x2="82.29" y2="313.80" stroke="#555" stroke-width="0.8"/>
<line x1="83.80" y1="312.30" x2="83.80" y2="313.80" stroke="#555" stroke-width="0.8"/>
<line x1="85.15" y1="312.30" x2="85.15" y2="315.50" stroke="#333" stroke-width="1.1"/>
<line x1="94.05" y1="312.30" x2="94.05" y2="313.80" stroke="#555" stroke-width="0.8"/>
<line x1="99.25" y1="312.30" x2="99.25" y2="313.80" stroke="#555" stroke-width="0.8"/>
<line x1="102.94" y1="312.30" x2="102.94" y2="313.80" stroke="#555" stroke-width="0.8"/>
<line x1="105.80" y1="312.30" x2="105.80" y2="313.80" stroke="#555" stroke-width="0.8"/>
<line x1="108.14" y1="312.30" x2="108.14" y2="313.80" stroke="#555" stroke-width="0.8"/>
<line x1="110.12" y1="312.30" x2="110.12" y2="313.80" stroke="#555" stroke-width="0.8"/>
<line x1="111.84" y1="312.30" x2="111.84" y2="313.80" stroke="#555" stroke-width="0.8"/>
<line x1="113.35" y1="312.30" x2="113.35" y2="313.80" stroke="#555" stroke-width="0.8"/>
<line x1="114.70" y1="312.30" x2="114.70" y2="315.50" stroke="#333" stroke-width="1.1"/>
<line x1="123.60" y1="312.30" x2="123.60" y2="313.80" stroke="#555" stroke-width="0.8"/>
<line x1="128.80" y1="312.30" x2="128.80" y2="313.80" stroke="#555" stroke-width="0.8"/>
<line x1="132.49" y1="312.30" x2="132.49" y2="313.80" stroke="#555" stroke-width="0.8"/>
<line x1="135.35" y1="312.30" x2="135.35" y2="313.80" stroke="#555" stroke-width="0.8"/>
<line x1="137.69" y1="312.30" x2="137.69" y2="313.80" stroke="#555" stroke-width="0.8"/>
<line x1="139.67" y1="312.30" x2="139.67" y2="313.80" stroke="#555" stroke-width="0.8"/>
<line x1="141.39" y1="312.30" x2="141.39" y2="313.80" stroke="#555" stroke-width="0.8"/>
<line x1="142.90" y1="312.30" x2="142.90" y2="313.80" stroke="#555" stroke-width="0.8"/>
<line x1="144.25" y1="312.30" x2="144.25" y2="315.50" stroke="#333" stroke-width="1.1"/>
<line x1="153.15" y1="312.30" x2="153.15" y2="313.80" stroke="#555" stroke-width="0.8"/>
<line x1="158.35" y1="312.30" x2="158.35" y2="313.80" stroke="#555" stroke-width="0.8"/>
<line x1="162.04" y1="312.30" x2="162.04" y2="313.80" stroke="#555" stroke-width="0.8"/>
<line x1="164.90" y1="312.30" x2="164.90" y2="313.80" stroke="#555" stroke-width="0.8"/>
<line x1="167.24" y1="312.30" x2="167.24" y2="313.80" stroke="#555" stroke-width="0.8"/>
<line x1="169.22" y1="312.30" x2="169.22" y2="313.80" stroke="#555" stroke-width="0.8"/>
<line x1="170.94" y1="312.30" x2="170.94" y2="313.80" stroke="#555" stroke-width="0.8"/>
<line x1="172.45" y1="312.30" x2="172.45" y2="313.80" stroke="#555" stroke-width="0.8"/>
<line x1="173.80" y1="312.30" x2="173.80" y2="315.50" stroke="#333" stroke-width="1.1"/>
<text x="57.90" y="325.00" font-family='"Liberation Sans", sans-serif' font-size="5.1" fill="#3a3a3a">10</text>
<text x="63.60" y="321.80" font-family='"Liberation Sans", sans-serif' font-size="4.9" fill="#3a3a3a">0</text>
<text x="84.95" y="325.00" font-family='"Liberation Sans", sans-serif' font-size="5.1" fill="#3a3a3a">10</text>
<text x="90.65" y="321.80" font-family='"Liberation Sans", sans-serif' font-size="4.9" fill="#3a3a3a">1</text>
<text x="113.90" y="325.00" font-family='"Liberation Sans", sans-serif' font-size="5.1" fill="#3a3a3a">10</text>
<text x="119.60" y="321.80" font-family='"Liberation Sans", sans-serif' font-size="4.9" fill="#3a3a3a">2</text>
<text x="143.95" y="325.00" font-family='"Liberation Sans", sans-serif' font-size="5.1" fill="#3a3a3a">10</text>
<text x="149.65" y="321.80" font-family='"Liberation Sans", sans-serif' font-size="4.9" fill="#3a3a3a">3</text>
<text x="165.60" y="325.00" font-family='"Liberation Sans", sans-serif' font-size="5.1" fill="#3a3a3a">10</text>
<text x="171.30" y="321.80" font-family='"Liberation Sans", sans-serif' font-size="4.9" fill="#3a3a3a">4</text>
<g stroke="#2a2a2a" stroke-width="1.35" fill="none">
<line x1="55.60" y1="295.30" x2="83.30" y2="295.30"/>
<line x1="83.30" y1="293.30" x2="83.30" y2="297.30"/>
<line x1="83.30" y1="301.50" x2="173.80" y2="301.50"/>
<line x1="83.30" y1="299.50" x2="83.30" y2="303.50"/>
<line x1="173.80" y1="299.50" x2="173.80" y2="303.50"/>
</g>
<text x="57.30" y="206.50" font-family='"Liberation Sans", sans-serif' font-weight="bold" font-size="8.3" fill="#111">64.8</text>
<text x="163.40" y="206.50" font-family='"Liberation Sans", sans-serif' font-weight="bold" font-size="8.3" fill="#111" text-anchor="end">35.2</text>
<g opacity="1.0"><path d="M201.00,311.60 L201.00,311.01 L201.25,310.86 L201.50,310.69 L201.75,310.48 L202.00,310.23 L202.25,309.92 L202.50,309.57 L202.75,309.14 L203.00,308.65 L203.25,308.07 L203.50,307.40 L203.75,306.63 L204.00,305.74 L204.25,304.72 L204.50,303.57 L204.75,302.27 L205.00,300.81 L205.25,299.19 L205.50,297.39 L205.75,295.40 L206.00,293.23 L206.25,290.87 L206.50,288.31 L206.75,285.57 L207.00,282.64 L207.25,279.54 L207.50,276.28 L207.75,272.87 L208.00,269.33 L208.25,265.70 L208.50,262.00 L208.75,258.25 L209.00,254.49 L209.25,250.77 L209.50,247.12 L209.75,243.57 L210.00,240.17 L210.25,236.97 L210.50,234.00 L210.75,231.29 L211.00,228.90 L211.25,226.84 L211.50,225.14 L211.75,223.84 L212.00,222.95 L212.25,222.48 L212.50,222.43 L212.75,222.74 L213.00,223.40 L213.25,224.39 L213.50,225.71 L213.75,227.34 L214.00,229.26 L214.25,231.45 L214.50,233.88 L214.75,236.54 L215.00,239.39 L215.25,242.40 L215.50,245.54 L215.75,248.79 L216.00,252.11 L216.25,255.47 L216.50,258.85 L216.75,262.22 L217.00,265.55 L217.25,268.83 L217.50,272.03 L217.75,275.13 L218.00,278.12 L218.25,280.99 L218.50,283.72 L218.75,286.30 L219.00,288.73 L219.25,291.02 L219.50,293.14 L219.75,295.11 L220.00,296.93 L220.25,298.60 L220.50,300.12 L220.75,301.50 L221.00,302.76 L221.25,303.88 L221.50,304.89 L221.75,305.79 L222.00,306.59 L222.25,307.30 L222.50,307.92 L222.75,308.46 L223.00,308.94 L223.25,309.35 L223.50,309.70 L223.75,310.01 L224.00,310.27 L224.25,310.49 L224.50,310.68 L224.75,310.84 L225.00,310.98 L225.25,311.09 L225.50,311.18 L225.75,311.26 L226.00,311.32 L226.25,311.38 L226.50,311.42 L226.75,311.46 L227.00,311.49 L227.25,311.51 L227.50,311.53 L227.75,311.54 L228.00,311.56 L228.25,311.57 L228.25,311.60 Z" fill="#f3f3f3"/><path d="M201.00,311.01 L201.00,311.01 L201.25,310.86 L201.50,310.69 L201.75,310.48 L202.00,310.23 L202.25,309.92 L202.50,309.57 L202.75,309.14 L203.00,308.65 L203.25,308.07 L203.50,307.40 L203.75,306.63 L204.00,305.74 L204.25,304.72 L204.50,303.57 L204.75,302.27 L205.00,300.81 L205.25,299.19 L205.50,297.39 L205.75,295.40 L206.00,293.23 L206.25,290.87 L206.50,288.31 L206.75,285.57 L207.00,282.64 L207.25,279.54 L207.50,276.28 L207.75,272.87 L208.00,269.33 L208.25,265.70 L208.50,262.00 L208.75,258.25 L209.00,254.49 L209.25,250.77 L209.50,247.12 L209.75,243.57 L210.00,240.17 L210.25,236.97 L210.50,234.00 L210.75,231.29 L211.00,228.90 L211.25,226.84 L211.50,225.14 L211.75,223.84 L212.00,222.95 L212.25,222.48 L212.50,222.43 L212.75,222.74 L213.00,223.40 L213.25,224.39 L213.50,225.71 L213.75,227.34 L214.00,229.26 L214.25,231.45 L214.50,233.88 L214.75,236.54 L215.00,239.39 L215.25,242.40 L215.50,245.54 L215.75,248.79 L216.00,252.11 L216.25,255.47 L216.50,258.85 L216.75,262.22 L217.00,265.55 L217.25,268.83 L217.50,272.03 L217.75,275.13 L218.00,278.12 L218.25,280.99 L218.50,283.72 L218.75,286.30 L219.00,288.73 L219.25,291.02 L219.50,293.14 L219.75,295.11 L220.00,296.93 L220.25,298.60 L220.50,300.12 L220.75,301.50 L221.00,302.76 L221.25,303.88 L221.50,304.89 L221.75,305.79 L222.00,306.59 L222.25,307.30 L222.50,307.92 L222.75,308.46 L223.00,308.94 L223.25,309.35 L223.50,309.70 L223.75,310.01 L224.00,310.27 L224.25,310.49 L224.50,310.68 L224.75,310.84 L225.00,310.98 L225.25,311.09 L225.50,311.18 L225.75,311.26 L226.00,311.32 L226.25,311.38 L226.50,311.42 L226.75,311.46 L227.00,311.49 L227.25,311.51 L227.50,311.53 L227.75,311.54 L228.00,311.56 L228.25,311.57" fill="none" stroke="#bdbdbd" stroke-width="0.6"/></g>
<g opacity="1.0"><path d="M220.30,311.60 L220.30,311.57 L220.55,311.56 L220.80,311.54 L221.05,311.50 L221.30,311.46 L221.55,311.40 L221.80,311.31 L222.05,311.19 L222.30,311.03 L222.55,310.81 L222.80,310.52 L223.05,310.14 L223.30,309.65 L223.55,309.01 L223.80,308.21 L224.05,307.21 L224.30,305.97 L224.55,304.46 L224.80,302.64 L225.05,300.48 L225.30,297.95 L225.55,295.02 L225.80,291.68 L226.05,287.93 L226.30,283.78 L226.55,279.25 L226.80,274.39 L227.05,269.26 L227.30,263.94 L227.55,258.54 L227.80,253.16 L228.05,247.93 L228.30,242.98 L228.55,238.44 L228.80,234.44 L229.05,231.11 L229.30,228.54 L229.55,226.81 L229.80,225.97 L230.05,226.07 L230.30,227.08 L230.55,228.99 L230.80,231.72 L231.05,235.19 L231.30,239.31 L231.55,243.94 L231.80,248.95 L232.05,254.23 L232.30,259.62 L232.55,265.02 L232.80,270.30 L233.05,275.38 L233.30,280.18 L233.55,284.64 L233.80,288.71 L234.05,292.38 L234.30,295.64 L234.55,298.48 L234.80,300.94 L235.05,303.03 L235.30,304.78 L235.55,306.24 L235.80,307.42 L236.05,308.39 L236.30,309.15 L236.55,309.76 L236.80,310.23 L237.05,310.59 L237.30,310.86 L237.55,311.07 L237.80,311.22 L238.05,311.33 L238.30,311.41 L238.55,311.47 L238.80,311.51 L239.05,311.54 L239.30,311.56 L239.30,311.60 Z" fill="#404040"/><path d="M220.30,311.57 L220.30,311.57 L220.55,311.56 L220.80,311.54 L221.05,311.50 L221.30,311.46 L221.55,311.40 L221.80,311.31 L222.05,311.19 L222.30,311.03 L222.55,310.81 L222.80,310.52 L223.05,310.14 L223.30,309.65 L223.55,309.01 L223.80,308.21 L224.05,307.21 L224.30,305.97 L224.55,304.46 L224.80,302.64 L225.05,300.48 L225.30,297.95 L225.55,295.02 L225.80,291.68 L226.05,287.93 L226.30,283.78 L226.55,279.25 L226.80,274.39 L227.05,269.26 L227.30,263.94 L227.55,258.54 L227.80,253.16 L228.05,247.93 L228.30,242.98 L228.55,238.44 L228.80,234.44 L229.05,231.11 L229.30,228.54 L229.55,226.81 L229.80,225.97 L230.05,226.07 L230.30,227.08 L230.55,228.99 L230.80,231.72 L231.05,235.19 L231.30,239.31 L231.55,243.94 L231.80,248.95 L232.05,254.23 L232.30,259.62 L232.55,265.02 L232.80,270.30 L233.05,275.38 L233.30,280.18 L233.55,284.64 L233.80,288.71 L234.05,292.38 L234.30,295.64 L234.55,298.48 L234.80,300.94 L235.05,303.03 L235.30,304.78 L235.55,306.24 L235.80,307.42 L236.05,308.39 L236.30,309.15 L236.55,309.76 L236.80,310.23 L237.05,310.59 L237.30,310.86 L237.55,311.07 L237.80,311.22 L238.05,311.33 L238.30,311.41 L238.55,311.47 L238.80,311.51 L239.05,311.54 L239.30,311.56" fill="none" stroke="#262626" stroke-width="0.6"/></g>
<g opacity="0.6"><path d="M204.90,311.60 L204.90,311.57 L205.15,311.56 L205.40,311.55 L205.65,311.53 L205.90,311.52 L206.15,311.49 L206.40,311.46 L206.65,311.43 L206.90,311.38 L207.15,311.33 L207.40,311.26 L207.65,311.18 L207.90,311.08 L208.15,310.95 L208.40,310.81 L208.65,310.63 L208.90,310.42 L209.15,310.17 L209.40,309.88 L209.65,309.53 L209.90,309.13 L210.15,308.66 L210.40,308.11 L210.65,307.49 L210.90,306.77 L211.15,305.94 L211.40,305.01 L211.65,303.95 L211.90,302.77 L212.15,301.44 L212.40,299.97 L212.65,298.34 L212.90,296.55 L213.15,294.59 L213.40,292.45 L213.65,290.15 L213.90,287.66 L214.15,285.01 L214.40,282.19 L214.65,279.21 L214.90,276.08 L215.15,272.82 L215.40,269.44 L215.65,265.96 L215.90,262.41 L216.15,258.82 L216.40,255.20 L216.65,251.60 L216.90,248.05 L217.15,244.57 L217.40,241.21 L217.65,238.00 L217.90,234.98 L218.15,232.18 L218.40,229.63 L218.65,227.36 L218.90,225.41 L219.15,223.79 L219.40,222.52 L219.65,221.63 L219.90,221.13 L220.15,221.01 L220.40,221.28 L220.65,221.94 L220.90,222.99 L221.15,224.39 L221.40,226.15 L221.65,228.23 L221.90,230.61 L222.15,233.27 L222.40,236.16 L222.65,239.27 L222.90,242.54 L223.15,245.95 L223.40,249.46 L223.65,253.04 L223.90,256.65 L224.15,260.26 L224.40,263.84 L224.65,267.36 L224.90,270.80 L225.15,274.14 L225.40,277.35 L225.65,280.42 L225.90,283.33 L226.15,286.09 L226.40,288.68 L226.65,291.09 L226.90,293.33 L227.15,295.39 L227.40,297.29 L227.65,299.01 L227.90,300.58 L228.15,301.99 L228.40,303.26 L228.65,304.39 L228.90,305.40 L229.15,306.29 L229.40,307.07 L229.65,307.75 L229.90,308.34 L230.15,308.86 L230.40,309.30 L230.65,309.68 L230.90,310.00 L231.15,310.28 L231.40,310.51 L231.65,310.71 L231.90,310.87 L232.15,311.01 L232.40,311.12 L232.65,311.21 L232.90,311.29 L233.15,311.35 L233.40,311.40 L233.65,311.44 L233.90,311.48 L234.15,311.50 L234.40,311.52 L234.65,311.54 L234.90,311.55 L235.15,311.56 L235.15,311.60 Z" fill="#b4b4b4"/><path d="M204.90,311.57 L204.90,311.57 L205.15,311.56 L205.40,311.55 L205.65,311.53 L205.90,311.52 L206.15,311.49 L206.40,311.46 L206.65,311.43 L206.90,311.38 L207.15,311.33 L207.40,311.26 L207.65,311.18 L207.90,311.08 L208.15,310.95 L208.40,310.81 L208.65,310.63 L208.90,310.42 L209.15,310.17 L209.40,309.88 L209.65,309.53 L209.90,309.13 L210.15,308.66 L210.40,308.11 L210.65,307.49 L210.90,306.77 L211.15,305.94 L211.40,305.01 L211.65,303.95 L211.90,302.77 L212.15,301.44 L212.40,299.97 L212.65,298.34 L212.90,296.55 L213.15,294.59 L213.40,292.45 L213.65,290.15 L213.90,287.66 L214.15,285.01 L214.40,282.19 L214.65,279.21 L214.90,276.08 L215.15,272.82 L215.40,269.44 L215.65,265.96 L215.90,262.41 L216.15,258.82 L216.40,255.20 L216.65,251.60 L216.90,248.05 L217.15,244.57 L217.40,241.21 L217.65,238.00 L217.90,234.98 L218.15,232.18 L218.40,229.63 L218.65,227.36 L218.90,225.41 L219.15,223.79 L219.40,222.52 L219.65,221.63 L219.90,221.13 L220.15,221.01 L220.40,221.28 L220.65,221.94 L220.90,222.99 L221.15,224.39 L221.40,226.15 L221.65,228.23 L221.90,230.61 L222.15,233.27 L222.40,236.16 L222.65,239.27 L222.90,242.54 L223.15,245.95 L223.40,249.46 L223.65,253.04 L223.90,256.65 L224.15,260.26 L224.40,263.84 L224.65,267.36 L224.90,270.80 L225.15,274.14 L225.40,277.35 L225.65,280.42 L225.90,283.33 L226.15,286.09 L226.40,288.68 L226.65,291.09 L226.90,293.33 L227.15,295.39 L227.40,297.29 L227.65,299.01 L227.90,300.58 L228.15,301.99 L228.40,303.26 L228.65,304.39 L228.90,305.40 L229.15,306.29 L229.40,307.07 L229.65,307.75 L229.90,308.34 L230.15,308.86 L230.40,309.30 L230.65,309.68 L230.90,310.00 L231.15,310.28 L231.40,310.51 L231.65,310.71 L231.90,310.87 L232.15,311.01 L232.40,311.12 L232.65,311.21 L232.90,311.29 L233.15,311.35 L233.40,311.40 L233.65,311.44 L233.90,311.48 L234.15,311.50 L234.40,311.52 L234.65,311.54 L234.90,311.55 L235.15,311.56" fill="none" stroke="#5a5a5a" stroke-width="0.6"/></g>
<path d="M200.80,195.20 H318.50 V312.70" fill="none" stroke="#9c9c9c" stroke-width="1.2"/>
<line x1="200.80" y1="195.20" x2="200.80" y2="312.70" stroke="#444" stroke-width="0.9"/>
<line x1="200.80" y1="312.70" x2="318.50" y2="312.70" stroke="#333" stroke-width="1"/>
<line x1="197.80" y1="311.60" x2="200.80" y2="311.60" stroke="#333" stroke-width="1.1"/>
<text x="195.00" y="313.90" font-family='"Liberation Sans", sans-serif' font-size="5.2" fill="#3a3a3a" text-anchor="end">0</text>
<line x1="199.40" y1="304.42" x2="200.80" y2="304.42" stroke="#666" stroke-width="0.8"/>
<line x1="199.40" y1="297.24" x2="200.80" y2="297.24" stroke="#666" stroke-width="0.8"/>
<line x1="199.40" y1="290.06" x2="200.80" y2="290.06" stroke="#666" stroke-width="0.8"/>
<line x1="197.80" y1="282.88" x2="200.80" y2="282.88" stroke="#333" stroke-width="1.1"/>
<text x="195.00" y="285.18" font-family='"Liberation Sans", sans-serif' font-size="5.2" fill="#3a3a3a" text-anchor="end">100</text>
<line x1="199.40" y1="275.69" x2="200.80" y2="275.69" stroke="#666" stroke-width="0.8"/>
<line x1="199.40" y1="268.51" x2="200.80" y2="268.51" stroke="#666" stroke-width="0.8"/>
<line x1="199.40" y1="261.33" x2="200.80" y2="261.33" stroke="#666" stroke-width="0.8"/>
<line x1="197.80" y1="254.15" x2="200.80" y2="254.15" stroke="#333" stroke-width="1.1"/>
<text x="195.00" y="256.45" font-family='"Liberation Sans", sans-serif' font-size="5.2" fill="#3a3a3a" text-anchor="end">200</text>
<line x1="199.40" y1="246.97" x2="200.80" y2="246.97" stroke="#666" stroke-width="0.8"/>
<line x1="199.40" y1="239.79" x2="200.80" y2="239.79" stroke="#666" stroke-width="0.8"/>
<line x1="199.40" y1="232.61" x2="200.80" y2="232.61" stroke="#666" stroke-width="0.8"/>
<line x1="197.80" y1="225.43" x2="200.80" y2="225.43" stroke="#333" stroke-width="1.1"/>
<text x="195.00" y="227.73" font-family='"Liberation Sans", sans-serif' font-size="5.2" fill="#3a3a3a" text-anchor="end">300</text>
<line x1="199.40" y1="218.24" x2="200.80" y2="218.24" stroke="#666" stroke-width="0.8"/>
<line x1="199.40" y1="211.06" x2="200.80" y2="211.06" stroke="#666" stroke-width="0.8"/>
<line x1="199.40" y1="203.88" x2="200.80" y2="203.88" stroke="#666" stroke-width="0.8"/>
<line x1="197.80" y1="196.70" x2="200.80" y2="196.70" stroke="#333" stroke-width="1.1"/>
<text x="195.00" y="199.00" font-family='"Liberation Sans", sans-serif' font-size="5.2" fill="#3a3a3a" text-anchor="end">400</text>
<line x1="200.80" y1="312.70" x2="200.80" y2="315.90" stroke="#333" stroke-width="1.1"/>
<line x1="209.66" y1="312.70" x2="209.66" y2="314.20" stroke="#555" stroke-width="0.8"/>
<line x1="214.84" y1="312.70" x2="214.84" y2="314.20" stroke="#555" stroke-width="0.8"/>
<line x1="218.52" y1="312.70" x2="218.52" y2="314.20" stroke="#555" stroke-width="0.8"/>
<line x1="221.37" y1="312.70" x2="221.37" y2="314.20" stroke="#555" stroke-width="0.8"/>
<line x1="223.70" y1="312.70" x2="223.70" y2="314.20" stroke="#555" stroke-width="0.8"/>
<line x1="225.67" y1="312.70" x2="225.67" y2="314.20" stroke="#555" stroke-width="0.8"/>
<line x1="227.37" y1="312.70" x2="227.37" y2="314.20" stroke="#555" stroke-width="0.8"/>
<line x1="228.88" y1="312.70" x2="228.88" y2="314.20" stroke="#555" stroke-width="0.8"/>
<line x1="230.23" y1="312.70" x2="230.23" y2="315.90" stroke="#333" stroke-width="1.1"/>
<line x1="239.08" y1="312.70" x2="239.08" y2="314.20" stroke="#555" stroke-width="0.8"/>
<line x1="244.26" y1="312.70" x2="244.26" y2="314.20" stroke="#555" stroke-width="0.8"/>
<line x1="247.94" y1="312.70" x2="247.94" y2="314.20" stroke="#555" stroke-width="0.8"/>
<line x1="250.79" y1="312.70" x2="250.79" y2="314.20" stroke="#555" stroke-width="0.8"/>
<line x1="253.12" y1="312.70" x2="253.12" y2="314.20" stroke="#555" stroke-width="0.8"/>
<line x1="255.09" y1="312.70" x2="255.09" y2="314.20" stroke="#555" stroke-width="0.8"/>
<line x1="256.80" y1="312.70" x2="256.80" y2="314.20" stroke="#555" stroke-width="0.8"/>
<line x1="258.30" y1="312.70" x2="258.30" y2="314.20" stroke="#555" stroke-width="0.8"/>
<line x1="259.65" y1="312.70" x2="259.65" y2="315.90" stroke="#333" stroke-width="1.1"/>
<line x1="268.51" y1="312.70" x2="268.51" y2="314.20" stroke="#555" stroke-width="0.8"/>
<line x1="273.69" y1="312.70" x2="273.69" y2="314.20" stroke="#555" stroke-width="0.8"/>
<line x1="277.37" y1="312.70" x2="277.37" y2="314.20" stroke="#555" stroke-width="0.8"/>
<line x1="280.22" y1="312.70" x2="280.22" y2="314.20" stroke="#555" stroke-width="0.8"/>
<line x1="282.55" y1="312.70" x2="282.55" y2="314.20" stroke="#555" stroke-width="0.8"/>
<line x1="284.52" y1="312.70" x2="284.52" y2="314.20" stroke="#555" stroke-width="0.8"/>
<line x1="286.22" y1="312.70" x2="286.22" y2="314.20" stroke="#555" stroke-width="0.8"/>
<line x1="287.73" y1="312.70" x2="287.73" y2="314.20" stroke="#555" stroke-width="0.8"/>
<line x1="289.08" y1="312.70" x2="289.08" y2="315.90" stroke="#333" stroke-width="1.1"/>
<line x1="297.93" y1="312.70" x2="297.93" y2="314.20" stroke="#555" stroke-width="0.8"/>
<line x1="303.11" y1="312.70" x2="303.11" y2="314.20" stroke="#555" stroke-width="0.8"/>
<line x1="306.79" y1="312.70" x2="306.79" y2="314.20" stroke="#555" stroke-width="0.8"/>
<line x1="309.64" y1="312.70" x2="309.64" y2="314.20" stroke="#555" stroke-width="0.8"/>
<line x1="311.97" y1="312.70" x2="311.97" y2="314.20" stroke="#555" stroke-width="0.8"/>
<line x1="313.94" y1="312.70" x2="313.94" y2="314.20" stroke="#555" stroke-width="0.8"/>
<line x1="315.65" y1="312.70" x2="315.65" y2="314.20" stroke="#555" stroke-width="0.8"/>
<line x1="317.15" y1="312.70" x2="317.15" y2="314.20" stroke="#555" stroke-width="0.8"/>
<line x1="318.50" y1="312.70" x2="318.50" y2="315.90" stroke="#333" stroke-width="1.1"/>
<text x="203.10" y="325.40" font-family='"Liberation Sans", sans-serif' font-size="5.1" fill="#3a3a3a">10</text>
<text x="208.80" y="322.20" font-family='"Liberation Sans", sans-serif' font-size="4.9" fill="#3a3a3a">0</text>
<text x="230.03" y="325.40" font-family='"Liberation Sans", sans-serif' font-size="5.1" fill="#3a3a3a">10</text>
<text x="235.73" y="322.20" font-family='"Liberation Sans", sans-serif' font-size="4.9" fill="#3a3a3a">1</text>
<text x="258.85" y="325.40" font-family='"Liberation Sans", sans-serif' font-size="5.1" fill="#3a3a3a">10</text>
<text x="264.55" y="322.20" font-family='"Liberation Sans", sans-serif' font-size="4.9" fill="#3a3a3a">2</text>
<text x="288.78" y="325.40" font-family='"Liberation Sans", sans-serif' font-size="5.1" fill="#3a3a3a">10</text>
<text x="294.48" y="322.20" font-family='"Liberation Sans", sans-serif' font-size="4.9" fill="#3a3a3a">3</text>
<text x="310.30" y="325.40" font-family='"Liberation Sans", sans-serif' font-size="5.1" fill="#3a3a3a">10</text>
<text x="316.00" y="322.20" font-family='"Liberation Sans", sans-serif' font-size="4.9" fill="#3a3a3a">4</text>
<g stroke="#2a2a2a" stroke-width="1.35" fill="none">
<line x1="200.80" y1="296.70" x2="228.60" y2="296.70"/>
<line x1="228.60" y1="294.70" x2="228.60" y2="298.70"/>
<line x1="228.60" y1="302.70" x2="318.50" y2="302.70"/>
<line x1="228.60" y1="300.70" x2="228.60" y2="304.70"/>
<line x1="318.50" y1="300.70" x2="318.50" y2="304.70"/>
</g>
<text x="202.50" y="207.60" font-family='"Liberation Sans", sans-serif' font-weight="bold" font-size="8.3" fill="#111">36.7</text>
<text x="308.40" y="207.60" font-family='"Liberation Sans", sans-serif' font-weight="bold" font-size="8.3" fill="#111" text-anchor="end">63.3</text>
<text x="115.30" y="21.20" font-family='"Liberation Serif", serif' font-weight="bold" font-size="11.3" fill="#111" text-anchor="middle">Control</text>
<text x="261.20" y="21.20" font-family='"Liberation Serif", serif' font-weight="bold" font-size="11.3" fill="#111" text-anchor="middle">RT</text>
<text x="119.40" y="186.30" font-family='"Liberation Serif", serif' font-weight="bold" font-size="11.3" fill="#111" text-anchor="middle">Chry<tspan dx="1.4">sin</tspan></text>
<text x="251.40" y="185.70" font-family='"Liberation Serif", serif' font-weight="bold" font-size="11.3" fill="#111" text-anchor="middle">Chrysin+ RT</text>
<path d="M29.0,25 L32.3,25 L31.2,334.6 L27.9,334.6 Z" fill="#000"/>
<path d="M30.6,7.9 L36.3,26.4 L30.6,25.6 L24.9,26.4 Z" fill="#000"/>
<path d="M31.1,337.1 L339,338.5 L339,341.9 L31.1,340.4 Z" fill="#000"/>
<path d="M355.9,340.4 L337.5,334.8 L338.6,340.3 L337.5,345.9 Z" fill="#000"/>
<text x="2.2" y="21.2" font-family='"Liberation Serif", serif' font-weight="bold" font-size="18.8" fill="#000">(a)</text>
<text transform="translate(20.2,221) rotate(-90)" font-family='"Liberation Serif", serif' font-size="15.2" fill="#000">Cell count</text>
<text x="81.4" y="358" font-family='"Liberation Serif", serif' font-size="15.3" fill="#000">Calreticulin- phycoerythrin</text>
<rect x="327.4" y="42.8" width="29.4" height="7.7" fill="#f3f3f3"/>
<rect x="327.9" y="60.8" width="28.9" height="6.8" fill="#d3d3d3"/>
<rect x="327.4" y="75.8" width="28.6" height="6.6" fill="#3c3c3c"/>
<text x="361.8" y="47.7" font-family='"Liberation Serif", serif' font-weight="bold" font-size="9.2" fill="#111">Unstain</text>
<text x="360.9" y="67.3" font-family='"Liberation Serif", serif' font-weight="bold" font-size="9.2" fill="#111">Control</text>
<text x="358.8" y="83.2" font-family='"Liberation Serif", serif' font-weight="bold" font-size="9.2" fill="#111">Treatment</text>
<text x="427.6" y="29.8" font-family='"Liberation Serif", serif' font-weight="bold" font-size="19.2" fill="#000">(b)</text>
<line x1="485.3" y1="77.30" x2="485.3" y2="269.30" stroke="#000" stroke-width="2"/>
<line x1="477" y1="268.30" x2="664.3" y2="268.30" stroke="#000" stroke-width="2"/>
<line x1="477" y1="268.30" x2="485" y2="268.30" stroke="#000" stroke-width="2"/>
<text x="474.3" y="273.95" font-family='"Liberation Serif", serif' font-weight="bold" font-size="15.7" fill="#000" text-anchor="end">0</text>
<line x1="477" y1="220.68" x2="485" y2="220.68" stroke="#000" stroke-width="2"/>
<text x="474.3" y="226.33" font-family='"Liberation Serif", serif' font-weight="bold" font-size="15.7" fill="#000" text-anchor="end">25</text>
<line x1="477" y1="173.05" x2="485" y2="173.05" stroke="#000" stroke-width="2"/>
<text x="474.3" y="178.70" font-family='"Liberation Serif", serif' font-weight="bold" font-size="15.7" fill="#000" text-anchor="end">50</text>
<line x1="477" y1="125.43" x2="485" y2="125.43" stroke="#000" stroke-width="2"/>
<text x="474.3" y="131.08" font-family='"Liberation Serif", serif' font-weight="bold" font-size="15.7" fill="#000" text-anchor="end">75</text>
<line x1="477" y1="77.80" x2="485" y2="77.80" stroke="#000" stroke-width="2"/>
<text x="474.3" y="83.45" font-family='"Liberation Serif", serif' font-weight="bold" font-size="15.7" fill="#000" text-anchor="end">100</text>
<text transform="translate(440.1,266.2) rotate(-90)" font-family='"Liberation Serif", serif' font-weight="bold" font-size="17.45" fill="#000">CRT surface exposure %</text>
<line x1="512.70" y1="253.82" x2="512.70" y2="259.73" stroke="#222" stroke-width="1.2"/>
<line x1="506.20" y1="253.82" x2="519.20" y2="253.82" stroke="#222" stroke-width="1.2"/>
<rect x="499.40" y="259.73" width="26.6" height="8.57" fill="#111111" stroke="#222" stroke-width="1"/>
<line x1="512.70" y1="268.30" x2="512.70" y2="277.80" stroke="#000" stroke-width="2"/>
<line x1="554.00" y1="211.91" x2="554.00" y2="222.39" stroke="#222" stroke-width="1.2"/>
<line x1="547.50" y1="211.91" x2="560.50" y2="211.91" stroke="#222" stroke-width="1.2"/>
<rect x="540.70" y="222.39" width="26.6" height="45.91" fill="#a9a9a9" stroke="#222" stroke-width="1"/>
<line x1="554.00" y1="268.30" x2="554.00" y2="277.80" stroke="#000" stroke-width="2"/>
<line x1="595.00" y1="201.24" x2="595.00" y2="207.72" stroke="#222" stroke-width="1.2"/>
<line x1="588.50" y1="201.24" x2="601.50" y2="201.24" stroke="#222" stroke-width="1.2"/>
<rect x="581.70" y="207.72" width="26.6" height="60.58" fill="#888888" stroke="#222" stroke-width="1"/>
<line x1="595.00" y1="268.30" x2="595.00" y2="277.80" stroke="#000" stroke-width="2"/>
<line x1="636.00" y1="145.05" x2="636.00" y2="154.00" stroke="#222" stroke-width="1.2"/>
<line x1="629.50" y1="145.05" x2="642.50" y2="145.05" stroke="#222" stroke-width="1.2"/>
<rect x="622.70" y="154.00" width="26.6" height="114.30" fill="#dcdcdc" stroke="#222" stroke-width="1"/>
<line x1="636.00" y1="268.30" x2="636.00" y2="277.80" stroke="#000" stroke-width="2"/>
<path d="M552.00,198.10 L550.40,207.50 M555.00,198.10 L553.40,207.50 M549.00,201.20 H555.70 M548.80,204.30 H555.50 M559.45,198.10 L557.85,207.50 M562.45,198.10 L560.85,207.50 M556.45,201.20 H563.15 M556.25,204.30 H562.95" stroke="#1e1e1e" stroke-width="1.05" fill="none"/>
<path d="M586.70,184.40 L585.10,193.80 M589.70,184.40 L588.10,193.80 M583.70,187.50 H590.40 M583.50,190.60 H590.20 M593.95,184.40 L592.35,193.80 M596.95,184.40 L595.35,193.80 M590.95,187.50 H597.65 M590.75,190.60 H597.45 M601.20,184.40 L599.60,193.80 M604.20,184.40 L602.60,193.80 M598.20,187.50 H604.90 M598.00,190.60 H604.70" stroke="#1e1e1e" stroke-width="1.05" fill="none"/>
<path d="M630.20,127.60 L628.60,137.00 M633.20,127.60 L631.60,137.00 M627.20,130.70 H633.90 M627.00,133.80 H633.70 M637.65,127.60 L636.05,137.00 M640.65,127.60 L639.05,137.00 M634.65,130.70 H641.35 M634.45,133.80 H641.15 M645.10,127.60 L643.50,137.00 M648.10,127.60 L646.50,137.00 M642.10,130.70 H648.80 M641.90,133.80 H648.60" stroke="#1e1e1e" stroke-width="1.05" fill="none"/>
<path d="M553.7,101.8 H636.4 M553.7,97.4 V105.7 M636.4,97.4 V105.7" stroke="#333" stroke-width="1.2" fill="none"/>
<path d="M595.2,120.3 H636.4 M595.2,116 V124.7 M636.4,116 V124.7" stroke="#333" stroke-width="1.2" fill="none"/>
<path d="M586.40,91.55 L587.13,93.50 L589.21,93.59 L587.58,94.88 L588.13,96.89 L586.40,95.74 L584.67,96.89 L585.22,94.88 L583.59,93.59 L585.67,93.50 Z M593.80,91.55 L594.53,93.50 L596.61,93.59 L594.98,94.88 L595.53,96.89 L593.80,95.74 L592.07,96.89 L592.62,94.88 L590.99,93.59 L593.07,93.50 Z M601.40,91.55 L602.13,93.50 L604.21,93.59 L602.58,94.88 L603.13,96.89 L601.40,95.74 L599.67,96.89 L600.22,94.88 L598.59,93.59 L600.67,93.50 Z M608.40,110.55 L609.13,112.50 L611.21,112.59 L609.58,113.88 L610.13,115.89 L608.40,114.74 L606.67,115.89 L607.22,113.88 L605.59,112.59 L607.67,112.50 Z M615.80,110.55 L616.53,112.50 L618.61,112.59 L616.98,113.88 L617.53,115.89 L615.80,114.74 L614.07,115.89 L614.62,113.88 L612.99,112.59 L615.07,112.50 Z M623.40,110.55 L624.13,112.50 L626.21,112.59 L624.58,113.88 L625.13,115.89 L623.40,114.74 L621.67,115.89 L622.22,113.88 L620.59,112.59 L622.67,112.50 Z" fill="#1e1e1e"/>
<text transform="translate(525.20,289.70) rotate(-45)" font-family='"Liberation Serif", serif' font-weight="bold" font-size="14.9" fill="#000" text-anchor="end">Control</text>
<text transform="translate(564.60,291.20) rotate(-45)" font-family='"Liberation Serif", serif' font-weight="bold" font-size="14.9" fill="#000" text-anchor="end">RT(4 Gray)</text>
<text transform="translate(604.00,291.20) rotate(-45)" font-family='"Liberation Serif", serif' font-weight="bold" font-size="14.9" fill="#000" text-anchor="end">Chrysin(60μM)</text>
<text transform="translate(642.90,291.20) rotate(-45)" font-family='"Liberation Serif", serif' font-weight="bold" font-size="14.9" fill="#000" text-anchor="end">Chrysin+RT</text>
</svg>
</body></html>
